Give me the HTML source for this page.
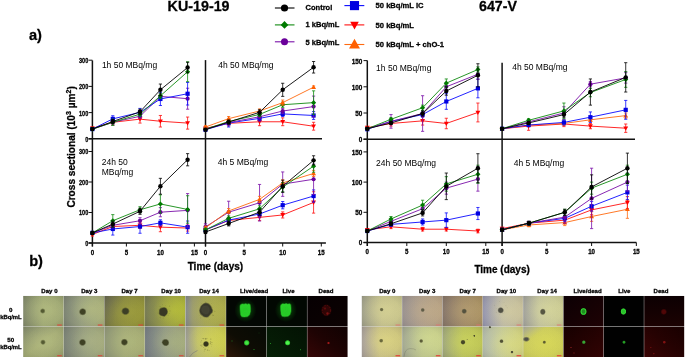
<!DOCTYPE html>
<html><head><meta charset="utf-8"><style>
html,body{margin:0;padding:0;background:#fff;width:685px;height:357px;overflow:hidden}
svg{display:block;will-change:transform}
text{font-family:'Liberation Sans', sans-serif}
text[font-weight=bold]{stroke:#000;stroke-width:0.28px;paint-order:stroke}
</style></head><body>
<svg width="685" height="357" viewBox="0 0 685 357">
<text x="167.6" y="11.3" font-size="14.3" font-weight="bold" text-anchor="start" fill="#000" >KU-19-19</text>
<text x="479.0" y="10.7" font-size="14.2" font-weight="bold" text-anchor="start" fill="#000" >647-V</text>
<text x="29.0" y="39.5" font-size="14.6" font-weight="bold" text-anchor="start" fill="#000" >a)</text>
<text x="29.2" y="266.2" font-size="14.6" font-weight="bold" text-anchor="start" fill="#000" >b)</text>
<path d="M274.9,8.0H294.5" stroke="#000000" stroke-width="1.1"/>
<circle cx="284.50" cy="8.00" r="3.60" fill="#000000"/>
<text x="305.6" y="10.2" font-size="7.5" font-weight="bold" text-anchor="start" fill="#000" >Control</text>
<path d="M274.9,24.9H294.5" stroke="#108a10" stroke-width="1.1"/>
<path d="M284.50,21.11L288.30,24.90L284.50,28.69L280.70,24.90Z" fill="#007a00"/>
<text x="305.6" y="27.3" font-size="7.5" font-weight="bold" text-anchor="start" fill="#000" >1 kBq/mL</text>
<path d="M274.9,41.8H294.5" stroke="#7a10a8" stroke-width="1.1"/>
<circle cx="284.50" cy="41.80" r="3.52" fill="#6a009a"/>
<text x="305.6" y="44.5" font-size="7.5" font-weight="bold" text-anchor="start" fill="#000" >5 kBq/mL</text>
<path d="M344.4,5.6H364.3" stroke="#0a0aff" stroke-width="1.1"/>
<rect x="349.94" y="1.04" width="9.12" height="9.12" fill="#0000e0"/>
<text x="375.6" y="8.1" font-size="7.6" font-weight="bold" text-anchor="start" fill="#000" >50 kBq/mL IC</text>
<path d="M344.4,24.9H364.3" stroke="#ff1010" stroke-width="1.1"/>
<path d="M350.21,21.68L358.79,21.68L354.50,29.40Z" fill="#ff0000"/>
<text x="375.6" y="27.6" font-size="7.6" font-weight="bold" text-anchor="start" fill="#000" >50 kBq/mL</text>
<path d="M344.4,44.5H364.3" stroke="#ff6a10" stroke-width="1.1"/>
<path d="M349.00,48.62L360.00,48.62L354.50,38.73Z" fill="#ff6000"/>
<text x="375.6" y="46.6" font-size="7.6" font-weight="bold" text-anchor="start" fill="#000" >50 kBq/mL + chO-1</text>
<path d="M92.4,60.4V246.5" stroke="#111" stroke-width="1.5" fill="none"/><path d="M205.5,60.1V246.5" stroke="#111" stroke-width="1.5" fill="none"/><path d="M88.60000000000001,138.8H322.0" stroke="#111" stroke-width="1.5" fill="none"/><path d="M88.60000000000001,243.0H325.9" stroke="#111" stroke-width="1.5" fill="none"/><path d="M88.60000000000001,138.80H92.4" stroke="#111" stroke-width="1"/><text x="88.30" y="141.80" font-size="7.1" font-weight="bold" text-anchor="end" transform="translate(88.30,0) scale(0.78,1) translate(-88.30,0)">0</text><path d="M88.60000000000001,112.60H92.4" stroke="#111" stroke-width="1"/><text x="88.30" y="115.60" font-size="7.1" font-weight="bold" text-anchor="end" transform="translate(88.30,0) scale(0.78,1) translate(-88.30,0)">100</text><path d="M88.60000000000001,86.40H92.4" stroke="#111" stroke-width="1"/><text x="88.30" y="89.40" font-size="7.1" font-weight="bold" text-anchor="end" transform="translate(88.30,0) scale(0.78,1) translate(-88.30,0)">200</text><path d="M88.60000000000001,60.20H92.4" stroke="#111" stroke-width="1"/><text x="88.30" y="63.20" font-size="7.1" font-weight="bold" text-anchor="end" transform="translate(88.30,0) scale(0.78,1) translate(-88.30,0)">300</text><path d="M88.60000000000001,243.00H92.4" stroke="#111" stroke-width="1"/><text x="88.30" y="246.00" font-size="7.1" font-weight="bold" text-anchor="end" transform="translate(88.30,0) scale(0.78,1) translate(-88.30,0)">0</text><path d="M88.60000000000001,212.50H92.4" stroke="#111" stroke-width="1"/><text x="88.30" y="215.50" font-size="7.1" font-weight="bold" text-anchor="end" transform="translate(88.30,0) scale(0.78,1) translate(-88.30,0)">100</text><path d="M88.60000000000001,182.00H92.4" stroke="#111" stroke-width="1"/><text x="88.30" y="185.00" font-size="7.1" font-weight="bold" text-anchor="end" transform="translate(88.30,0) scale(0.78,1) translate(-88.30,0)">200</text><path d="M88.60000000000001,151.50H92.4" stroke="#111" stroke-width="1"/><text x="88.30" y="154.50" font-size="7.1" font-weight="bold" text-anchor="end" transform="translate(88.30,0) scale(0.78,1) translate(-88.30,0)">300</text><path d="M92.40,243.0V246.5" stroke="#111" stroke-width="1"/><text x="92.40" y="255.00" font-size="7" font-weight="bold" text-anchor="middle" transform="translate(92.40,0) scale(0.88,1) translate(-92.40,0)">0</text><path d="M126.40,243.0V246.5" stroke="#111" stroke-width="1"/><text x="126.40" y="255.00" font-size="7" font-weight="bold" text-anchor="middle" transform="translate(126.40,0) scale(0.88,1) translate(-126.40,0)">5</text><path d="M160.40,243.0V246.5" stroke="#111" stroke-width="1"/><text x="160.40" y="255.00" font-size="7" font-weight="bold" text-anchor="middle" transform="translate(160.40,0) scale(0.88,1) translate(-160.40,0)">10</text><path d="M194.40,243.0V246.5" stroke="#111" stroke-width="1"/><text x="194.40" y="255.00" font-size="7" font-weight="bold" text-anchor="middle" transform="translate(194.40,0) scale(0.88,1) translate(-194.40,0)">15</text><path d="M205.50,243.0V246.5" stroke="#111" stroke-width="1"/><text x="205.50" y="255.00" font-size="7" font-weight="bold" text-anchor="middle" transform="translate(205.50,0) scale(0.88,1) translate(-205.50,0)">0</text><path d="M244.10,243.0V246.5" stroke="#111" stroke-width="1"/><text x="244.10" y="255.00" font-size="7" font-weight="bold" text-anchor="middle" transform="translate(244.10,0) scale(0.88,1) translate(-244.10,0)">5</text><path d="M282.70,243.0V246.5" stroke="#111" stroke-width="1"/><text x="282.70" y="255.00" font-size="7" font-weight="bold" text-anchor="middle" transform="translate(282.70,0) scale(0.88,1) translate(-282.70,0)">10</text><path d="M321.30,243.0V246.5" stroke="#111" stroke-width="1"/><text x="321.30" y="255.00" font-size="7" font-weight="bold" text-anchor="middle" transform="translate(321.30,0) scale(0.88,1) translate(-321.30,0)">15</text>
<path d="M367.3,60.5V246.0" stroke="#111" stroke-width="1.5" fill="none"/><path d="M502.1,62.7V246.0" stroke="#111" stroke-width="1.5" fill="none"/><path d="M363.5,139.2H635.0" stroke="#111" stroke-width="1.5" fill="none"/><path d="M363.5,242.5H636.4" stroke="#111" stroke-width="1.5" fill="none"/><path d="M363.5,139.20H367.3" stroke="#111" stroke-width="1"/><text x="362.40" y="142.20" font-size="7.1" font-weight="bold" text-anchor="end" transform="translate(362.40,0) scale(0.9,1) translate(-362.40,0)">0</text><path d="M363.5,113.00H367.3" stroke="#111" stroke-width="1"/><text x="362.40" y="116.00" font-size="7.1" font-weight="bold" text-anchor="end" transform="translate(362.40,0) scale(0.9,1) translate(-362.40,0)">50</text><path d="M363.5,86.80H367.3" stroke="#111" stroke-width="1"/><text x="362.40" y="89.80" font-size="7.1" font-weight="bold" text-anchor="end" transform="translate(362.40,0) scale(0.9,1) translate(-362.40,0)">100</text><path d="M363.5,60.60H367.3" stroke="#111" stroke-width="1"/><text x="362.40" y="63.60" font-size="7.1" font-weight="bold" text-anchor="end" transform="translate(362.40,0) scale(0.9,1) translate(-362.40,0)">150</text><path d="M363.5,242.50H367.3" stroke="#111" stroke-width="1"/><text x="362.40" y="245.50" font-size="7.1" font-weight="bold" text-anchor="end" transform="translate(362.40,0) scale(0.9,1) translate(-362.40,0)">0</text><path d="M363.5,212.30H367.3" stroke="#111" stroke-width="1"/><text x="362.40" y="215.30" font-size="7.1" font-weight="bold" text-anchor="end" transform="translate(362.40,0) scale(0.9,1) translate(-362.40,0)">50</text><path d="M363.5,182.10H367.3" stroke="#111" stroke-width="1"/><text x="362.40" y="185.10" font-size="7.1" font-weight="bold" text-anchor="end" transform="translate(362.40,0) scale(0.9,1) translate(-362.40,0)">100</text><path d="M363.5,151.90H367.3" stroke="#111" stroke-width="1"/><text x="362.40" y="154.90" font-size="7.1" font-weight="bold" text-anchor="end" transform="translate(362.40,0) scale(0.9,1) translate(-362.40,0)">150</text><path d="M367.30,242.5V246.0" stroke="#111" stroke-width="1"/><text x="367.30" y="254.50" font-size="7" font-weight="bold" text-anchor="middle" transform="translate(367.30,0) scale(0.88,1) translate(-367.30,0)">0</text><path d="M406.80,242.5V246.0" stroke="#111" stroke-width="1"/><text x="406.80" y="254.50" font-size="7" font-weight="bold" text-anchor="middle" transform="translate(406.80,0) scale(0.88,1) translate(-406.80,0)">5</text><path d="M446.30,242.5V246.0" stroke="#111" stroke-width="1"/><text x="446.30" y="254.50" font-size="7" font-weight="bold" text-anchor="middle" transform="translate(446.30,0) scale(0.88,1) translate(-446.30,0)">10</text><path d="M485.80,242.5V246.0" stroke="#111" stroke-width="1"/><text x="485.80" y="254.50" font-size="7" font-weight="bold" text-anchor="middle" transform="translate(485.80,0) scale(0.88,1) translate(-485.80,0)">15</text><path d="M502.10,242.5V246.0" stroke="#111" stroke-width="1"/><text x="502.10" y="254.50" font-size="7" font-weight="bold" text-anchor="middle" transform="translate(502.10,0) scale(0.88,1) translate(-502.10,0)">0</text><path d="M546.85,242.5V246.0" stroke="#111" stroke-width="1"/><text x="546.85" y="254.50" font-size="7" font-weight="bold" text-anchor="middle" transform="translate(546.85,0) scale(0.88,1) translate(-546.85,0)">5</text><path d="M591.60,242.5V246.0" stroke="#111" stroke-width="1"/><text x="591.60" y="254.50" font-size="7" font-weight="bold" text-anchor="middle" transform="translate(591.60,0) scale(0.88,1) translate(-591.60,0)">10</text><path d="M636.35,242.5V246.0" stroke="#111" stroke-width="1"/><text x="636.35" y="254.50" font-size="7" font-weight="bold" text-anchor="middle" transform="translate(636.35,0) scale(0.88,1) translate(-636.35,0)">15</text>
<text x="187.7" y="269.7" font-size="10" font-weight="bold" text-anchor="start" fill="#000" >Time (days)</text>
<text x="474.4" y="272.7" font-size="10" font-weight="bold" text-anchor="start" fill="#000" >Time (days)</text>
<text x="0" y="0" font-size="10.1" font-weight="bold" transform="translate(74.8,207.6) rotate(-90)">Cross sectional (10<tspan font-size="7" dy="-3.8">3</tspan><tspan dy="3.8"> µm</tspan><tspan font-size="7" dy="-3.8">2</tspan><tspan dy="3.8">)</tspan></text>
<text x="101.9" y="67.5" font-size="8.5" font-weight="normal" text-anchor="start" fill="#000" fill="#2a2a2a">1h 50 MBq/mg</text>
<text x="218.2" y="67.8" font-size="8.5" font-weight="normal" text-anchor="start" fill="#000" fill="#2a2a2a">4h 50 MBq/mg</text>
<text x="101.7" y="165" font-size="8.5" font-weight="normal" text-anchor="start" fill="#000" fill="#2a2a2a">24h 50</text>
<text x="101.7" y="175" font-size="8.5" font-weight="normal" text-anchor="start" fill="#000" fill="#2a2a2a">MBq/mg</text>
<text x="217.8" y="164.6" font-size="8.5" font-weight="normal" text-anchor="start" fill="#000" fill="#2a2a2a">4h 5 MBq/mg</text>
<text x="376.1" y="70.5" font-size="8.5" font-weight="normal" text-anchor="start" fill="#000" fill="#2a2a2a">1h 50 MBq/mg</text>
<text x="512.2" y="70.3" font-size="8.5" font-weight="normal" text-anchor="start" fill="#000" fill="#2a2a2a">4h 50 MBq/mg</text>
<text x="376.1" y="166.3" font-size="8.5" font-weight="normal" text-anchor="start" fill="#000" fill="#2a2a2a">24h 50 MBq/mg</text>
<text x="513.7" y="166.1" font-size="8.5" font-weight="normal" text-anchor="start" fill="#000" fill="#2a2a2a">4h 5 MBq/mg</text>
<path d="M92.40,127.01V129.63M90.80,127.01H94.00M90.80,129.63H94.00" stroke="#ff1010" stroke-width="0.8" fill="none"/><path d="M112.80,119.67V124.91M111.20,119.67H114.40M111.20,124.91H114.40" stroke="#ff1010" stroke-width="0.8" fill="none"/><path d="M140.00,115.22V123.08M138.40,115.22H141.60M138.40,123.08H141.60" stroke="#ff1010" stroke-width="0.8" fill="none"/><path d="M160.40,115.48V127.01M158.80,115.48H162.00M158.80,127.01H162.00" stroke="#ff1010" stroke-width="0.8" fill="none"/><path d="M187.60,117.05V129.11M186.00,117.05H189.20M186.00,129.11H189.20" stroke="#ff1010" stroke-width="0.8" fill="none"/><polyline points="92.40,128.32 112.80,122.29 140.00,119.15 160.40,121.25 187.60,123.08" stroke="#ff1010" stroke-width="0.9" fill="none"/><path d="M89.98,126.51L94.82,126.51L92.40,130.86Z" fill="#ff0000"/><path d="M110.38,120.48L115.22,120.48L112.80,124.84Z" fill="#ff0000"/><path d="M137.58,117.34L142.42,117.34L140.00,121.69Z" fill="#ff0000"/><path d="M157.98,119.43L162.82,119.43L160.40,123.79Z" fill="#ff0000"/><path d="M185.18,121.27L190.02,121.27L187.60,125.62Z" fill="#ff0000"/>
<path d="M92.40,127.80V130.42M90.80,127.80H94.00M90.80,130.42H94.00" stroke="#7a10a8" stroke-width="0.8" fill="none"/><path d="M112.80,119.67V124.91M111.20,119.67H114.40M111.20,124.91H114.40" stroke="#7a10a8" stroke-width="0.8" fill="none"/><path d="M140.00,114.17V118.36M138.40,114.17H141.60M138.40,118.36H141.60" stroke="#7a10a8" stroke-width="0.8" fill="none"/><path d="M160.40,93.74V98.98M158.80,93.74H162.00M158.80,98.98H162.00" stroke="#7a10a8" stroke-width="0.8" fill="none"/><path d="M187.60,88.23V109.19M186.00,88.23H189.20M186.00,109.19H189.20" stroke="#7a10a8" stroke-width="0.8" fill="none"/><polyline points="92.40,129.11 112.80,122.29 140.00,116.27 160.40,96.36 187.60,98.71" stroke="#7a10a8" stroke-width="0.9" fill="none"/><circle cx="92.40" cy="129.11" r="2.09" fill="#6a009a"/><circle cx="112.80" cy="122.29" r="2.09" fill="#6a009a"/><circle cx="140.00" cy="116.27" r="2.09" fill="#6a009a"/><circle cx="160.40" cy="96.36" r="2.09" fill="#6a009a"/><circle cx="187.60" cy="98.71" r="2.09" fill="#6a009a"/>
<path d="M92.40,127.80V130.42M90.80,127.80H94.00M90.80,130.42H94.00" stroke="#0a0aff" stroke-width="0.8" fill="none"/><path d="M112.80,115.74V122.03M111.20,115.74H114.40M111.20,122.03H114.40" stroke="#0a0aff" stroke-width="0.8" fill="none"/><path d="M140.00,108.41V116.27M138.40,108.41H141.60M138.40,116.27H141.60" stroke="#0a0aff" stroke-width="0.8" fill="none"/><path d="M160.40,92.43V105.53M158.80,92.43H162.00M158.80,105.53H162.00" stroke="#0a0aff" stroke-width="0.8" fill="none"/><path d="M187.60,82.47V105.00M186.00,82.47H189.20M186.00,105.00H189.20" stroke="#0a0aff" stroke-width="0.8" fill="none"/><polyline points="92.40,129.11 112.80,118.89 140.00,112.34 160.40,98.98 187.60,93.74" stroke="#0a0aff" stroke-width="0.9" fill="none"/><rect x="90.31" y="127.02" width="4.18" height="4.18" fill="#0000e0"/><rect x="110.71" y="116.80" width="4.18" height="4.18" fill="#0000e0"/><rect x="137.91" y="110.25" width="4.18" height="4.18" fill="#0000e0"/><rect x="158.31" y="96.89" width="4.18" height="4.18" fill="#0000e0"/><rect x="185.51" y="91.65" width="4.18" height="4.18" fill="#0000e0"/>
<path d="M92.40,127.80V130.42M90.80,127.80H94.00M90.80,130.42H94.00" stroke="#108a10" stroke-width="0.8" fill="none"/><path d="M112.80,119.15V125.44M111.20,119.15H114.40M111.20,125.44H114.40" stroke="#108a10" stroke-width="0.8" fill="none"/><path d="M140.00,112.08V116.27M138.40,112.08H141.60M138.40,116.27H141.60" stroke="#108a10" stroke-width="0.8" fill="none"/><path d="M160.40,93.21V98.45M158.80,93.21H162.00M158.80,98.45H162.00" stroke="#108a10" stroke-width="0.8" fill="none"/><path d="M187.60,61.77V81.68M186.00,61.77H189.20M186.00,81.68H189.20" stroke="#108a10" stroke-width="0.8" fill="none"/><polyline points="92.40,129.11 112.80,122.29 140.00,114.17 160.40,95.83 187.60,71.73" stroke="#108a10" stroke-width="0.9" fill="none"/><path d="M92.40,126.58L94.93,129.11L92.40,131.64L89.87,129.11Z" fill="#007a00"/><path d="M112.80,119.76L115.33,122.29L112.80,124.82L110.27,122.29Z" fill="#007a00"/><path d="M140.00,111.64L142.53,114.17L140.00,116.70L137.47,114.17Z" fill="#007a00"/><path d="M160.40,93.30L162.93,95.83L160.40,98.36L157.87,95.83Z" fill="#007a00"/><path d="M187.60,69.20L190.13,71.73L187.60,74.26L185.07,71.73Z" fill="#007a00"/>
<path d="M92.40,127.80V130.42M90.80,127.80H94.00M90.80,130.42H94.00" stroke="#000000" stroke-width="0.8" fill="none"/><path d="M112.80,119.41V123.60M111.20,119.41H114.40M111.20,123.60H114.40" stroke="#000000" stroke-width="0.8" fill="none"/><path d="M140.00,109.19V114.43M138.40,109.19H141.60M138.40,114.43H141.60" stroke="#000000" stroke-width="0.8" fill="none"/><path d="M160.40,84.04V95.57M158.80,84.04H162.00M158.80,95.57H162.00" stroke="#000000" stroke-width="0.8" fill="none"/><path d="M187.60,62.30V72.78M186.00,62.30H189.20M186.00,72.78H189.20" stroke="#000000" stroke-width="0.8" fill="none"/><polyline points="92.40,129.11 112.80,121.51 140.00,111.81 160.40,89.81 187.60,67.54" stroke="#000000" stroke-width="0.9" fill="none"/><circle cx="92.40" cy="129.11" r="2.20" fill="#000000"/><circle cx="112.80" cy="121.51" r="2.20" fill="#000000"/><circle cx="140.00" cy="111.81" r="2.20" fill="#000000"/><circle cx="160.40" cy="89.81" r="2.20" fill="#000000"/><circle cx="187.60" cy="67.54" r="2.20" fill="#000000"/>
<path d="M205.50,127.01V129.63M203.90,127.01H207.10M203.90,129.63H207.10" stroke="#ff1010" stroke-width="0.8" fill="none"/><path d="M228.66,120.72V125.96M227.06,120.72H230.26M227.06,125.96H230.26" stroke="#ff1010" stroke-width="0.8" fill="none"/><path d="M259.54,117.84V125.70M257.94,117.84H261.14M257.94,125.70H261.14" stroke="#ff1010" stroke-width="0.8" fill="none"/><path d="M282.70,117.84V125.70M281.10,117.84H284.30M281.10,125.70H284.30" stroke="#ff1010" stroke-width="0.8" fill="none"/><path d="M313.58,122.29V130.15M311.98,122.29H315.18M311.98,130.15H315.18" stroke="#ff1010" stroke-width="0.8" fill="none"/><polyline points="205.50,128.32 228.66,123.34 259.54,121.77 282.70,121.77 313.58,126.22" stroke="#ff1010" stroke-width="0.9" fill="none"/><path d="M203.08,126.51L207.92,126.51L205.50,130.86Z" fill="#ff0000"/><path d="M226.24,121.53L231.08,121.53L228.66,125.88Z" fill="#ff0000"/><path d="M257.12,119.96L261.96,119.96L259.54,124.31Z" fill="#ff0000"/><path d="M280.28,119.96L285.12,119.96L282.70,124.31Z" fill="#ff0000"/><path d="M311.16,124.41L316.00,124.41L313.58,128.77Z" fill="#ff0000"/>
<path d="M205.50,128.32V130.94M203.90,128.32H207.10M203.90,130.94H207.10" stroke="#0a0aff" stroke-width="0.8" fill="none"/><path d="M228.66,119.15V127.01M227.06,119.15H230.26M227.06,127.01H230.26" stroke="#0a0aff" stroke-width="0.8" fill="none"/><path d="M259.54,115.74V120.98M257.94,115.74H261.14M257.94,120.98H261.14" stroke="#0a0aff" stroke-width="0.8" fill="none"/><path d="M282.70,111.29V116.53M281.10,111.29H284.30M281.10,116.53H284.30" stroke="#0a0aff" stroke-width="0.8" fill="none"/><path d="M313.58,111.55V119.41M311.98,111.55H315.18M311.98,119.41H315.18" stroke="#0a0aff" stroke-width="0.8" fill="none"/><polyline points="205.50,129.63 228.66,123.08 259.54,118.36 282.70,113.91 313.58,115.48" stroke="#0a0aff" stroke-width="0.9" fill="none"/><rect x="203.41" y="127.54" width="4.18" height="4.18" fill="#0000e0"/><rect x="226.57" y="120.99" width="4.18" height="4.18" fill="#0000e0"/><rect x="257.45" y="116.27" width="4.18" height="4.18" fill="#0000e0"/><rect x="280.61" y="111.82" width="4.18" height="4.18" fill="#0000e0"/><rect x="311.49" y="113.39" width="4.18" height="4.18" fill="#0000e0"/>
<path d="M205.50,127.80V130.42M203.90,127.80H207.10M203.90,130.42H207.10" stroke="#7a10a8" stroke-width="0.8" fill="none"/><path d="M228.66,119.94V125.18M227.06,119.94H230.26M227.06,125.18H230.26" stroke="#7a10a8" stroke-width="0.8" fill="none"/><path d="M259.54,114.70V118.89M257.94,114.70H261.14M257.94,118.89H261.14" stroke="#7a10a8" stroke-width="0.8" fill="none"/><path d="M282.70,108.41V113.65M281.10,108.41H284.30M281.10,113.65H284.30" stroke="#7a10a8" stroke-width="0.8" fill="none"/><path d="M313.58,96.09V117.05M311.98,96.09H315.18M311.98,117.05H315.18" stroke="#7a10a8" stroke-width="0.8" fill="none"/><polyline points="205.50,129.11 228.66,122.56 259.54,116.79 282.70,111.03 313.58,106.57" stroke="#7a10a8" stroke-width="0.9" fill="none"/><circle cx="205.50" cy="129.11" r="2.09" fill="#6a009a"/><circle cx="228.66" cy="122.56" r="2.09" fill="#6a009a"/><circle cx="259.54" cy="116.79" r="2.09" fill="#6a009a"/><circle cx="282.70" cy="111.03" r="2.09" fill="#6a009a"/><circle cx="313.58" cy="106.57" r="2.09" fill="#6a009a"/>
<path d="M205.50,127.80V130.42M203.90,127.80H207.10M203.90,130.42H207.10" stroke="#108a10" stroke-width="0.8" fill="none"/><path d="M228.66,119.41V123.60M227.06,119.41H230.26M227.06,123.60H230.26" stroke="#108a10" stroke-width="0.8" fill="none"/><path d="M259.54,112.34V116.53M257.94,112.34H261.14M257.94,116.53H261.14" stroke="#108a10" stroke-width="0.8" fill="none"/><path d="M282.70,102.12V107.36M281.10,102.12H284.30M281.10,107.36H284.30" stroke="#108a10" stroke-width="0.8" fill="none"/><path d="M313.58,90.85V114.43M311.98,90.85H315.18M311.98,114.43H315.18" stroke="#108a10" stroke-width="0.8" fill="none"/><polyline points="205.50,129.11 228.66,121.51 259.54,114.43 282.70,104.74 313.58,102.64" stroke="#108a10" stroke-width="0.9" fill="none"/><path d="M205.50,126.58L208.03,129.11L205.50,131.64L202.97,129.11Z" fill="#007a00"/><path d="M228.66,118.98L231.19,121.51L228.66,124.04L226.13,121.51Z" fill="#007a00"/><path d="M259.54,111.90L262.07,114.43L259.54,116.96L257.01,114.43Z" fill="#007a00"/><path d="M282.70,102.21L285.23,104.74L282.70,107.27L280.17,104.74Z" fill="#007a00"/><path d="M313.58,100.11L316.11,102.64L313.58,105.17L311.05,102.64Z" fill="#007a00"/>
<path d="M205.50,125.70V128.32M203.90,125.70H207.10M203.90,128.32H207.10" stroke="#ff6a10" stroke-width="0.8" fill="none"/><path d="M228.66,116.53V120.72M227.06,116.53H230.26M227.06,120.72H230.26" stroke="#ff6a10" stroke-width="0.8" fill="none"/><path d="M259.54,108.93V113.12M257.94,108.93H261.14M257.94,113.12H261.14" stroke="#ff6a10" stroke-width="0.8" fill="none"/><path d="M282.70,100.02V105.26M281.10,100.02H284.30M281.10,105.26H284.30" stroke="#ff6a10" stroke-width="0.8" fill="none"/><path d="M313.58,85.88V88.50M311.98,85.88H315.18M311.98,88.50H315.18" stroke="#ff6a10" stroke-width="0.8" fill="none"/><polyline points="205.50,127.01 228.66,118.63 259.54,111.03 282.70,102.64 313.58,87.19" stroke="#ff6a10" stroke-width="0.9" fill="none"/><path d="M203.08,128.83L207.92,128.83L205.50,124.47Z" fill="#ff6000"/><path d="M226.24,120.44L231.08,120.44L228.66,116.09Z" fill="#ff6000"/><path d="M257.12,112.84L261.96,112.84L259.54,108.49Z" fill="#ff6000"/><path d="M280.28,104.46L285.12,104.46L282.70,100.10Z" fill="#ff6000"/><path d="M311.16,89.00L316.00,89.00L313.58,84.65Z" fill="#ff6000"/>
<path d="M205.50,128.32V130.94M203.90,128.32H207.10M203.90,130.94H207.10" stroke="#000000" stroke-width="0.8" fill="none"/><path d="M228.66,119.94V124.13M227.06,119.94H230.26M227.06,124.13H230.26" stroke="#000000" stroke-width="0.8" fill="none"/><path d="M259.54,109.72V114.96M257.94,109.72H261.14M257.94,114.96H261.14" stroke="#000000" stroke-width="0.8" fill="none"/><path d="M282.70,83.26V96.36M281.10,83.26H284.30M281.10,96.36H284.30" stroke="#000000" stroke-width="0.8" fill="none"/><path d="M313.58,61.51V73.04M311.98,61.51H315.18M311.98,73.04H315.18" stroke="#000000" stroke-width="0.8" fill="none"/><polyline points="205.50,129.63 228.66,122.03 259.54,112.34 282.70,89.81 313.58,67.27" stroke="#000000" stroke-width="0.9" fill="none"/><circle cx="205.50" cy="129.63" r="2.20" fill="#000000"/><circle cx="228.66" cy="122.03" r="2.20" fill="#000000"/><circle cx="259.54" cy="112.34" r="2.20" fill="#000000"/><circle cx="282.70" cy="89.81" r="2.20" fill="#000000"/><circle cx="313.58" cy="67.27" r="2.20" fill="#000000"/>
<path d="M92.40,232.94V235.99M90.80,232.94H94.00M90.80,235.99H94.00" stroke="#ff1010" stroke-width="0.8" fill="none"/><path d="M112.80,223.48V229.58M111.20,223.48H114.40M111.20,229.58H114.40" stroke="#ff1010" stroke-width="0.8" fill="none"/><path d="M140.00,222.26V228.36M138.40,222.26H141.60M138.40,228.36H141.60" stroke="#ff1010" stroke-width="0.8" fill="none"/><path d="M160.40,222.56V231.72M158.80,222.56H162.00M158.80,231.72H162.00" stroke="#ff1010" stroke-width="0.8" fill="none"/><path d="M187.60,225.00V231.10M186.00,225.00H189.20M186.00,231.10H189.20" stroke="#ff1010" stroke-width="0.8" fill="none"/><polyline points="92.40,234.46 112.80,226.53 140.00,225.31 160.40,227.14 187.60,228.06" stroke="#ff1010" stroke-width="0.9" fill="none"/><path d="M89.98,232.65L94.82,232.65L92.40,237.00Z" fill="#ff0000"/><path d="M110.38,224.72L115.22,224.72L112.80,229.07Z" fill="#ff0000"/><path d="M137.58,223.50L142.42,223.50L140.00,227.85Z" fill="#ff0000"/><path d="M157.98,225.32L162.82,225.32L160.40,229.68Z" fill="#ff0000"/><path d="M185.18,226.24L190.02,226.24L187.60,230.60Z" fill="#ff0000"/>
<path d="M92.40,231.41V234.46M90.80,231.41H94.00M90.80,234.46H94.00" stroke="#0a0aff" stroke-width="0.8" fill="none"/><path d="M112.80,222.87V235.07M111.20,222.87H114.40M111.20,235.07H114.40" stroke="#0a0aff" stroke-width="0.8" fill="none"/><path d="M140.00,219.82V233.24M138.40,219.82H141.60M138.40,233.24H141.60" stroke="#0a0aff" stroke-width="0.8" fill="none"/><path d="M160.40,219.82V225.92M158.80,219.82H162.00M158.80,225.92H162.00" stroke="#0a0aff" stroke-width="0.8" fill="none"/><path d="M187.60,221.04V233.24M186.00,221.04H189.20M186.00,233.24H189.20" stroke="#0a0aff" stroke-width="0.8" fill="none"/><polyline points="92.40,232.94 112.80,228.97 140.00,226.53 160.40,222.87 187.60,227.14" stroke="#0a0aff" stroke-width="0.9" fill="none"/><rect x="90.31" y="230.84" width="4.18" height="4.18" fill="#0000e0"/><rect x="110.71" y="226.88" width="4.18" height="4.18" fill="#0000e0"/><rect x="137.91" y="224.44" width="4.18" height="4.18" fill="#0000e0"/><rect x="158.31" y="220.78" width="4.18" height="4.18" fill="#0000e0"/><rect x="185.51" y="225.05" width="4.18" height="4.18" fill="#0000e0"/>
<path d="M92.40,231.41V234.46M90.80,231.41H94.00M90.80,234.46H94.00" stroke="#7a10a8" stroke-width="0.8" fill="none"/><path d="M112.80,222.87V227.75M111.20,222.87H114.40M111.20,227.75H114.40" stroke="#7a10a8" stroke-width="0.8" fill="none"/><path d="M140.00,217.69V223.78M138.40,217.69H141.60M138.40,223.78H141.60" stroke="#7a10a8" stroke-width="0.8" fill="none"/><path d="M160.40,207.62V216.77M158.80,207.62H162.00M158.80,216.77H162.00" stroke="#7a10a8" stroke-width="0.8" fill="none"/><path d="M187.60,193.59V227.14M186.00,193.59H189.20M186.00,227.14H189.20" stroke="#7a10a8" stroke-width="0.8" fill="none"/><polyline points="92.40,232.94 112.80,225.31 140.00,220.74 160.40,212.19 187.60,210.37" stroke="#7a10a8" stroke-width="0.9" fill="none"/><circle cx="92.40" cy="232.94" r="2.09" fill="#6a009a"/><circle cx="112.80" cy="225.31" r="2.09" fill="#6a009a"/><circle cx="140.00" cy="220.74" r="2.09" fill="#6a009a"/><circle cx="160.40" cy="212.19" r="2.09" fill="#6a009a"/><circle cx="187.60" cy="210.37" r="2.09" fill="#6a009a"/>
<path d="M92.40,231.41V234.46M90.80,231.41H94.00M90.80,234.46H94.00" stroke="#108a10" stroke-width="0.8" fill="none"/><path d="M112.80,214.63V226.84M111.20,214.63H114.40M111.20,226.84H114.40" stroke="#108a10" stroke-width="0.8" fill="none"/><path d="M140.00,206.70V212.81M138.40,206.70H141.60M138.40,212.81H141.60" stroke="#108a10" stroke-width="0.8" fill="none"/><path d="M160.40,194.81V213.11M158.80,194.81H162.00M158.80,213.11H162.00" stroke="#108a10" stroke-width="0.8" fill="none"/><path d="M187.60,195.72V223.18M186.00,195.72H189.20M186.00,223.18H189.20" stroke="#108a10" stroke-width="0.8" fill="none"/><polyline points="92.40,232.94 112.80,220.74 140.00,209.75 160.40,203.96 187.60,209.45" stroke="#108a10" stroke-width="0.9" fill="none"/><path d="M92.40,230.41L94.93,232.94L92.40,235.47L89.87,232.94Z" fill="#007a00"/><path d="M112.80,218.21L115.33,220.74L112.80,223.27L110.27,220.74Z" fill="#007a00"/><path d="M140.00,207.22L142.53,209.75L140.00,212.28L137.47,209.75Z" fill="#007a00"/><path d="M160.40,201.43L162.93,203.96L160.40,206.49L157.87,203.96Z" fill="#007a00"/><path d="M187.60,206.92L190.13,209.45L187.60,211.98L185.07,209.45Z" fill="#007a00"/>
<path d="M92.40,231.41V234.46M90.80,231.41H94.00M90.80,234.46H94.00" stroke="#000000" stroke-width="0.8" fill="none"/><path d="M112.80,221.04V227.14M111.20,221.04H114.40M111.20,227.14H114.40" stroke="#000000" stroke-width="0.8" fill="none"/><path d="M140.00,208.23V214.33M138.40,208.23H141.60M138.40,214.33H141.60" stroke="#000000" stroke-width="0.8" fill="none"/><path d="M160.40,178.34V194.20M158.80,178.34H162.00M158.80,194.20H162.00" stroke="#000000" stroke-width="0.8" fill="none"/><path d="M187.60,153.63V165.84M186.00,153.63H189.20M186.00,165.84H189.20" stroke="#000000" stroke-width="0.8" fill="none"/><polyline points="92.40,232.94 112.80,224.09 140.00,211.28 160.40,186.27 187.60,159.74" stroke="#000000" stroke-width="0.9" fill="none"/><circle cx="92.40" cy="232.94" r="2.20" fill="#000000"/><circle cx="112.80" cy="224.09" r="2.20" fill="#000000"/><circle cx="140.00" cy="211.28" r="2.20" fill="#000000"/><circle cx="160.40" cy="186.27" r="2.20" fill="#000000"/><circle cx="187.60" cy="159.74" r="2.20" fill="#000000"/>
<path d="M205.50,228.36V231.41M203.90,228.36H207.10M203.90,231.41H207.10" stroke="#ff1010" stroke-width="0.8" fill="none"/><path d="M228.66,217.99V222.87M227.06,217.99H230.26M227.06,222.87H230.26" stroke="#ff1010" stroke-width="0.8" fill="none"/><path d="M259.54,214.33V220.43M257.94,214.33H261.14M257.94,220.43H261.14" stroke="#ff1010" stroke-width="0.8" fill="none"/><path d="M282.70,211.89V217.99M281.10,211.89H284.30M281.10,217.99H284.30" stroke="#ff1010" stroke-width="0.8" fill="none"/><path d="M313.58,191.76V213.11M311.98,191.76H315.18M311.98,213.11H315.18" stroke="#ff1010" stroke-width="0.8" fill="none"/><polyline points="205.50,229.88 228.66,220.43 259.54,217.38 282.70,214.94 313.58,202.44" stroke="#ff1010" stroke-width="0.9" fill="none"/><path d="M203.08,228.07L207.92,228.07L205.50,232.43Z" fill="#ff0000"/><path d="M226.24,218.62L231.08,218.62L228.66,222.97Z" fill="#ff0000"/><path d="M257.12,215.56L261.96,215.56L259.54,219.92Z" fill="#ff0000"/><path d="M280.28,213.12L285.12,213.12L282.70,217.48Z" fill="#ff0000"/><path d="M311.16,200.62L316.00,200.62L313.58,204.98Z" fill="#ff0000"/>
<path d="M205.50,228.36V231.41M203.90,228.36H207.10M203.90,231.41H207.10" stroke="#0a0aff" stroke-width="0.8" fill="none"/><path d="M228.66,217.69V222.56M227.06,217.69H230.26M227.06,222.56H230.26" stroke="#0a0aff" stroke-width="0.8" fill="none"/><path d="M259.54,210.97V217.07M257.94,210.97H261.14M257.94,217.07H261.14" stroke="#0a0aff" stroke-width="0.8" fill="none"/><path d="M282.70,201.52V208.84M281.10,201.52H284.30M281.10,208.84H284.30" stroke="#0a0aff" stroke-width="0.8" fill="none"/><path d="M313.58,189.93V202.13M311.98,189.93H315.18M311.98,202.13H315.18" stroke="#0a0aff" stroke-width="0.8" fill="none"/><polyline points="205.50,229.88 228.66,220.12 259.54,214.03 282.70,205.18 313.58,196.03" stroke="#0a0aff" stroke-width="0.9" fill="none"/><rect x="203.41" y="227.79" width="4.18" height="4.18" fill="#0000e0"/><rect x="226.57" y="218.03" width="4.18" height="4.18" fill="#0000e0"/><rect x="257.45" y="211.94" width="4.18" height="4.18" fill="#0000e0"/><rect x="280.61" y="203.09" width="4.18" height="4.18" fill="#0000e0"/><rect x="311.49" y="193.94" width="4.18" height="4.18" fill="#0000e0"/>
<path d="M205.50,223.78V229.88M203.90,223.78H207.10M203.90,229.88H207.10" stroke="#7a10a8" stroke-width="0.8" fill="none"/><path d="M228.66,201.22V223.18M227.06,201.22H230.26M227.06,223.18H230.26" stroke="#7a10a8" stroke-width="0.8" fill="none"/><path d="M259.54,184.44V221.04M257.94,184.44H261.14M257.94,221.04H261.14" stroke="#7a10a8" stroke-width="0.8" fill="none"/><path d="M282.70,171.94V196.34M281.10,171.94H284.30M281.10,196.34H284.30" stroke="#7a10a8" stroke-width="0.8" fill="none"/><path d="M313.58,164.00V194.50M311.98,164.00H315.18M311.98,194.50H315.18" stroke="#7a10a8" stroke-width="0.8" fill="none"/><polyline points="205.50,226.84 228.66,212.19 259.54,202.74 282.70,184.13 313.58,179.25" stroke="#7a10a8" stroke-width="0.9" fill="none"/><circle cx="205.50" cy="226.84" r="2.09" fill="#6a009a"/><circle cx="228.66" cy="212.19" r="2.09" fill="#6a009a"/><circle cx="259.54" cy="202.74" r="2.09" fill="#6a009a"/><circle cx="282.70" cy="184.13" r="2.09" fill="#6a009a"/><circle cx="313.58" cy="179.25" r="2.09" fill="#6a009a"/>
<path d="M205.50,226.22V229.28M203.90,226.22H207.10M203.90,229.28H207.10" stroke="#ff6a10" stroke-width="0.8" fill="none"/><path d="M228.66,208.53V213.41M227.06,208.53H230.26M227.06,213.41H230.26" stroke="#ff6a10" stroke-width="0.8" fill="none"/><path d="M259.54,196.34V202.44M257.94,196.34H261.14M257.94,202.44H261.14" stroke="#ff6a10" stroke-width="0.8" fill="none"/><path d="M282.70,179.87V185.97M281.10,179.87H284.30M281.10,185.97H284.30" stroke="#ff6a10" stroke-width="0.8" fill="none"/><path d="M313.58,170.41V176.51M311.98,170.41H315.18M311.98,176.51H315.18" stroke="#ff6a10" stroke-width="0.8" fill="none"/><polyline points="205.50,227.75 228.66,210.97 259.54,199.38 282.70,182.91 313.58,173.46" stroke="#ff6a10" stroke-width="0.9" fill="none"/><path d="M203.08,229.56L207.92,229.56L205.50,225.21Z" fill="#ff6000"/><path d="M226.24,212.79L231.08,212.79L228.66,208.43Z" fill="#ff6000"/><path d="M257.12,201.20L261.96,201.20L259.54,196.84Z" fill="#ff6000"/><path d="M280.28,184.73L285.12,184.73L282.70,180.37Z" fill="#ff6000"/><path d="M311.16,175.28L316.00,175.28L313.58,170.92Z" fill="#ff6000"/>
<path d="M205.50,228.36V231.41M203.90,228.36H207.10M203.90,231.41H207.10" stroke="#108a10" stroke-width="0.8" fill="none"/><path d="M228.66,215.85V220.74M227.06,215.85H230.26M227.06,220.74H230.26" stroke="#108a10" stroke-width="0.8" fill="none"/><path d="M259.54,205.79V211.89M257.94,205.79H261.14M257.94,211.89H261.14" stroke="#108a10" stroke-width="0.8" fill="none"/><path d="M282.70,182.61V191.76M281.10,182.61H284.30M281.10,191.76H284.30" stroke="#108a10" stroke-width="0.8" fill="none"/><path d="M313.58,160.04V172.24M311.98,160.04H315.18M311.98,172.24H315.18" stroke="#108a10" stroke-width="0.8" fill="none"/><polyline points="205.50,229.88 228.66,218.30 259.54,208.84 282.70,187.19 313.58,166.14" stroke="#108a10" stroke-width="0.9" fill="none"/><path d="M205.50,227.35L208.03,229.88L205.50,232.41L202.97,229.88Z" fill="#007a00"/><path d="M228.66,215.77L231.19,218.30L228.66,220.83L226.13,218.30Z" fill="#007a00"/><path d="M259.54,206.31L262.07,208.84L259.54,211.37L257.01,208.84Z" fill="#007a00"/><path d="M282.70,184.66L285.23,187.19L282.70,189.72L280.17,187.19Z" fill="#007a00"/><path d="M313.58,163.61L316.11,166.14L313.58,168.67L311.05,166.14Z" fill="#007a00"/>
<path d="M205.50,230.50V233.54M203.90,230.50H207.10M203.90,233.54H207.10" stroke="#000000" stroke-width="0.8" fill="none"/><path d="M228.66,221.04V225.92M227.06,221.04H230.26M227.06,225.92H230.26" stroke="#000000" stroke-width="0.8" fill="none"/><path d="M259.54,209.15V215.25M257.94,209.15H261.14M257.94,215.25H261.14" stroke="#000000" stroke-width="0.8" fill="none"/><path d="M282.70,180.17V192.37M281.10,180.17H284.30M281.10,192.37H284.30" stroke="#000000" stroke-width="0.8" fill="none"/><path d="M313.58,155.77V164.92M311.98,155.77H315.18M311.98,164.92H315.18" stroke="#000000" stroke-width="0.8" fill="none"/><polyline points="205.50,232.02 228.66,223.48 259.54,212.19 282.70,186.27 313.58,160.34" stroke="#000000" stroke-width="0.9" fill="none"/><circle cx="205.50" cy="232.02" r="2.20" fill="#000000"/><circle cx="228.66" cy="223.48" r="2.20" fill="#000000"/><circle cx="259.54" cy="212.19" r="2.20" fill="#000000"/><circle cx="282.70" cy="186.27" r="2.20" fill="#000000"/><circle cx="313.58" cy="160.34" r="2.20" fill="#000000"/>
<path d="M367.30,126.62V128.72M365.70,126.62H368.90M365.70,128.72H368.90" stroke="#ff1010" stroke-width="0.8" fill="none"/><path d="M391.00,120.86V126.10M389.40,120.86H392.60M389.40,126.10H392.60" stroke="#ff1010" stroke-width="0.8" fill="none"/><path d="M422.60,116.67V125.05M421.00,116.67H424.20M421.00,125.05H424.20" stroke="#ff1010" stroke-width="0.8" fill="none"/><path d="M446.30,118.24V128.72M444.70,118.24H447.90M444.70,128.72H447.90" stroke="#ff1010" stroke-width="0.8" fill="none"/><path d="M477.90,103.04V121.91M476.30,103.04H479.50M476.30,121.91H479.50" stroke="#ff1010" stroke-width="0.8" fill="none"/><polyline points="367.30,127.67 391.00,123.48 422.60,120.86 446.30,123.48 477.90,112.48" stroke="#ff1010" stroke-width="0.9" fill="none"/><path d="M364.88,125.86L369.72,125.86L367.30,130.21Z" fill="#ff0000"/><path d="M388.58,121.66L393.42,121.66L391.00,126.02Z" fill="#ff0000"/><path d="M420.18,119.04L425.02,119.04L422.60,123.40Z" fill="#ff0000"/><path d="M443.88,121.66L448.72,121.66L446.30,126.02Z" fill="#ff0000"/><path d="M475.48,110.66L480.32,110.66L477.90,115.02Z" fill="#ff0000"/>
<path d="M367.30,128.20V130.29M365.70,128.20H368.90M365.70,130.29H368.90" stroke="#0a0aff" stroke-width="0.8" fill="none"/><path d="M391.00,119.81V122.96M389.40,119.81H392.60M389.40,122.96H392.60" stroke="#0a0aff" stroke-width="0.8" fill="none"/><path d="M422.60,111.95V117.19M421.00,111.95H424.20M421.00,117.19H424.20" stroke="#0a0aff" stroke-width="0.8" fill="none"/><path d="M446.30,93.61V109.33M444.70,93.61H447.90M444.70,109.33H447.90" stroke="#0a0aff" stroke-width="0.8" fill="none"/><path d="M477.90,78.94V97.80M476.30,78.94H479.50M476.30,97.80H479.50" stroke="#0a0aff" stroke-width="0.8" fill="none"/><polyline points="367.30,129.24 391.00,121.38 422.60,114.57 446.30,101.47 477.90,88.37" stroke="#0a0aff" stroke-width="0.9" fill="none"/><rect x="365.21" y="127.15" width="4.18" height="4.18" fill="#0000e0"/><rect x="388.91" y="119.29" width="4.18" height="4.18" fill="#0000e0"/><rect x="420.51" y="112.48" width="4.18" height="4.18" fill="#0000e0"/><rect x="444.21" y="99.38" width="4.18" height="4.18" fill="#0000e0"/><rect x="475.81" y="86.28" width="4.18" height="4.18" fill="#0000e0"/>
<path d="M367.30,127.67V129.77M365.70,127.67H368.90M365.70,129.77H368.90" stroke="#7a10a8" stroke-width="0.8" fill="none"/><path d="M391.00,114.57V128.20M389.40,114.57H392.60M389.40,128.20H392.60" stroke="#7a10a8" stroke-width="0.8" fill="none"/><path d="M422.60,95.71V131.34M421.00,95.71H424.20M421.00,131.34H424.20" stroke="#7a10a8" stroke-width="0.8" fill="none"/><path d="M446.30,82.61V90.99M444.70,82.61H447.90M444.70,90.99H447.90" stroke="#7a10a8" stroke-width="0.8" fill="none"/><path d="M477.90,68.98V79.46M476.30,68.98H479.50M476.30,79.46H479.50" stroke="#7a10a8" stroke-width="0.8" fill="none"/><polyline points="367.30,128.72 391.00,121.38 422.60,113.52 446.30,86.80 477.90,74.22" stroke="#7a10a8" stroke-width="0.9" fill="none"/><circle cx="367.30" cy="128.72" r="2.09" fill="#6a009a"/><circle cx="391.00" cy="121.38" r="2.09" fill="#6a009a"/><circle cx="422.60" cy="113.52" r="2.09" fill="#6a009a"/><circle cx="446.30" cy="86.80" r="2.09" fill="#6a009a"/><circle cx="477.90" cy="74.22" r="2.09" fill="#6a009a"/>
<path d="M367.30,127.67V129.77M365.70,127.67H368.90M365.70,129.77H368.90" stroke="#108a10" stroke-width="0.8" fill="none"/><path d="M391.00,117.72V120.86M389.40,117.72H392.60M389.40,120.86H392.60" stroke="#108a10" stroke-width="0.8" fill="none"/><path d="M422.60,105.14V110.38M421.00,105.14H424.20M421.00,110.38H424.20" stroke="#108a10" stroke-width="0.8" fill="none"/><path d="M446.30,78.94V87.32M444.70,78.94H447.90M444.70,87.32H447.90" stroke="#108a10" stroke-width="0.8" fill="none"/><path d="M477.90,66.89V72.13M476.30,66.89H479.50M476.30,72.13H479.50" stroke="#108a10" stroke-width="0.8" fill="none"/><polyline points="367.30,128.72 391.00,119.29 422.60,107.76 446.30,83.13 477.90,69.51" stroke="#108a10" stroke-width="0.9" fill="none"/><path d="M367.30,126.19L369.83,128.72L367.30,131.25L364.77,128.72Z" fill="#007a00"/><path d="M391.00,116.76L393.53,119.29L391.00,121.82L388.47,119.29Z" fill="#007a00"/><path d="M422.60,105.23L425.13,107.76L422.60,110.29L420.07,107.76Z" fill="#007a00"/><path d="M446.30,80.60L448.83,83.13L446.30,85.66L443.77,83.13Z" fill="#007a00"/><path d="M477.90,66.98L480.43,69.51L477.90,72.04L475.37,69.51Z" fill="#007a00"/>
<path d="M367.30,127.67V129.77M365.70,127.67H368.90M365.70,129.77H368.90" stroke="#000000" stroke-width="0.8" fill="none"/><path d="M391.00,121.38V124.53M389.40,121.38H392.60M389.40,124.53H392.60" stroke="#000000" stroke-width="0.8" fill="none"/><path d="M422.60,110.90V116.14M421.00,110.90H424.20M421.00,116.14H424.20" stroke="#000000" stroke-width="0.8" fill="none"/><path d="M446.30,86.80V95.18M444.70,86.80H447.90M444.70,95.18H447.90" stroke="#000000" stroke-width="0.8" fill="none"/><path d="M477.90,63.74V86.80M476.30,63.74H479.50M476.30,86.80H479.50" stroke="#000000" stroke-width="0.8" fill="none"/><polyline points="367.30,128.72 391.00,122.96 422.60,113.52 446.30,90.99 477.90,75.27" stroke="#000000" stroke-width="0.9" fill="none"/><circle cx="367.30" cy="128.72" r="2.20" fill="#000000"/><circle cx="391.00" cy="122.96" r="2.20" fill="#000000"/><circle cx="422.60" cy="113.52" r="2.20" fill="#000000"/><circle cx="446.30" cy="90.99" r="2.20" fill="#000000"/><circle cx="477.90" cy="75.27" r="2.20" fill="#000000"/>
<path d="M502.10,127.67V129.77M500.50,127.67H503.70M500.50,129.77H503.70" stroke="#ff1010" stroke-width="0.8" fill="none"/><path d="M528.59,121.91V130.29M526.99,121.91H530.19M526.99,130.29H530.19" stroke="#ff1010" stroke-width="0.8" fill="none"/><path d="M563.91,121.38V126.62M562.31,121.38H565.51M562.31,126.62H565.51" stroke="#ff1010" stroke-width="0.8" fill="none"/><path d="M590.40,123.48V128.72M588.80,123.48H592.00M588.80,128.72H592.00" stroke="#ff1010" stroke-width="0.8" fill="none"/><path d="M625.72,124.00V132.39M624.12,124.00H627.32M624.12,132.39H627.32" stroke="#ff1010" stroke-width="0.8" fill="none"/><polyline points="502.10,128.72 528.59,126.10 563.91,124.00 590.40,126.10 625.72,128.20" stroke="#ff1010" stroke-width="0.9" fill="none"/><path d="M499.68,126.91L504.52,126.91L502.10,131.26Z" fill="#ff0000"/><path d="M526.17,124.28L531.01,124.28L528.59,128.64Z" fill="#ff0000"/><path d="M561.49,122.19L566.33,122.19L563.91,126.54Z" fill="#ff0000"/><path d="M587.98,124.28L592.82,124.28L590.40,128.64Z" fill="#ff0000"/><path d="M623.30,126.38L628.14,126.38L625.72,130.74Z" fill="#ff0000"/>
<path d="M502.10,127.67V129.77M500.50,127.67H503.70M500.50,129.77H503.70" stroke="#ff6a10" stroke-width="0.8" fill="none"/><path d="M528.59,123.48V126.62M526.99,123.48H530.19M526.99,126.62H530.19" stroke="#ff6a10" stroke-width="0.8" fill="none"/><path d="M563.91,121.91V125.05M562.31,121.91H565.51M562.31,125.05H565.51" stroke="#ff6a10" stroke-width="0.8" fill="none"/><path d="M590.40,118.24V121.38M588.80,118.24H592.00M588.80,121.38H592.00" stroke="#ff6a10" stroke-width="0.8" fill="none"/><path d="M625.72,113.00V118.24M624.12,113.00H627.32M624.12,118.24H627.32" stroke="#ff6a10" stroke-width="0.8" fill="none"/><polyline points="502.10,128.72 528.59,125.05 563.91,123.48 590.40,119.81 625.72,115.62" stroke="#ff6a10" stroke-width="0.9" fill="none"/><path d="M499.68,130.53L504.52,130.53L502.10,126.18Z" fill="#ff6000"/><path d="M526.17,126.87L531.01,126.87L528.59,122.51Z" fill="#ff6000"/><path d="M561.49,125.29L566.33,125.29L563.91,120.94Z" fill="#ff6000"/><path d="M587.98,121.63L592.82,121.63L590.40,117.27Z" fill="#ff6000"/><path d="M623.30,117.43L628.14,117.43L625.72,113.08Z" fill="#ff6000"/>
<path d="M502.10,127.67V129.77M500.50,127.67H503.70M500.50,129.77H503.70" stroke="#0a0aff" stroke-width="0.8" fill="none"/><path d="M528.59,123.48V126.62M526.99,123.48H530.19M526.99,126.62H530.19" stroke="#0a0aff" stroke-width="0.8" fill="none"/><path d="M563.91,119.81V125.05M562.31,119.81H565.51M562.31,125.05H565.51" stroke="#0a0aff" stroke-width="0.8" fill="none"/><path d="M590.40,111.95V122.43M588.80,111.95H592.00M588.80,122.43H592.00" stroke="#0a0aff" stroke-width="0.8" fill="none"/><path d="M625.72,100.42V119.29M624.12,100.42H627.32M624.12,119.29H627.32" stroke="#0a0aff" stroke-width="0.8" fill="none"/><polyline points="502.10,128.72 528.59,125.05 563.91,122.43 590.40,117.19 625.72,109.86" stroke="#0a0aff" stroke-width="0.9" fill="none"/><rect x="500.01" y="126.63" width="4.18" height="4.18" fill="#0000e0"/><rect x="526.50" y="122.96" width="4.18" height="4.18" fill="#0000e0"/><rect x="561.82" y="120.34" width="4.18" height="4.18" fill="#0000e0"/><rect x="588.31" y="115.10" width="4.18" height="4.18" fill="#0000e0"/><rect x="623.63" y="107.77" width="4.18" height="4.18" fill="#0000e0"/>
<path d="M502.10,127.67V129.77M500.50,127.67H503.70M500.50,129.77H503.70" stroke="#7a10a8" stroke-width="0.8" fill="none"/><path d="M528.59,120.34V123.48M526.99,120.34H530.19M526.99,123.48H530.19" stroke="#7a10a8" stroke-width="0.8" fill="none"/><path d="M563.91,106.71V119.29M562.31,106.71H565.51M562.31,119.29H565.51" stroke="#7a10a8" stroke-width="0.8" fill="none"/><path d="M590.40,81.56V86.80M588.80,81.56H592.00M588.80,86.80H592.00" stroke="#7a10a8" stroke-width="0.8" fill="none"/><path d="M625.72,72.65V83.13M624.12,72.65H627.32M624.12,83.13H627.32" stroke="#7a10a8" stroke-width="0.8" fill="none"/><polyline points="502.10,128.72 528.59,121.91 563.91,113.00 590.40,84.18 625.72,77.89" stroke="#7a10a8" stroke-width="0.9" fill="none"/><circle cx="502.10" cy="128.72" r="2.09" fill="#6a009a"/><circle cx="528.59" cy="121.91" r="2.09" fill="#6a009a"/><circle cx="563.91" cy="113.00" r="2.09" fill="#6a009a"/><circle cx="590.40" cy="84.18" r="2.09" fill="#6a009a"/><circle cx="625.72" cy="77.89" r="2.09" fill="#6a009a"/>
<path d="M502.10,127.67V129.77M500.50,127.67H503.70M500.50,129.77H503.70" stroke="#108a10" stroke-width="0.8" fill="none"/><path d="M528.59,118.76V121.91M526.99,118.76H530.19M526.99,121.91H530.19" stroke="#108a10" stroke-width="0.8" fill="none"/><path d="M563.91,103.04V118.76M562.31,103.04H565.51M562.31,118.76H565.51" stroke="#108a10" stroke-width="0.8" fill="none"/><path d="M590.40,88.37V96.76M588.80,88.37H592.00M588.80,96.76H592.00" stroke="#108a10" stroke-width="0.8" fill="none"/><path d="M625.72,71.60V87.32M624.12,71.60H627.32M624.12,87.32H627.32" stroke="#108a10" stroke-width="0.8" fill="none"/><polyline points="502.10,128.72 528.59,120.34 563.91,110.90 590.40,92.56 625.72,79.46" stroke="#108a10" stroke-width="0.9" fill="none"/><path d="M502.10,126.19L504.63,128.72L502.10,131.25L499.57,128.72Z" fill="#007a00"/><path d="M528.59,117.81L531.12,120.34L528.59,122.87L526.06,120.34Z" fill="#007a00"/><path d="M563.91,108.37L566.44,110.90L563.91,113.43L561.38,110.90Z" fill="#007a00"/><path d="M590.40,90.03L592.93,92.56L590.40,95.09L587.87,92.56Z" fill="#007a00"/><path d="M625.72,76.93L628.25,79.46L625.72,81.99L623.19,79.46Z" fill="#007a00"/>
<path d="M502.10,127.67V129.77M500.50,127.67H503.70M500.50,129.77H503.70" stroke="#000000" stroke-width="0.8" fill="none"/><path d="M528.59,121.38V124.53M526.99,121.38H530.19M526.99,124.53H530.19" stroke="#000000" stroke-width="0.8" fill="none"/><path d="M563.91,111.95V117.19M562.31,111.95H565.51M562.31,117.19H565.51" stroke="#000000" stroke-width="0.8" fill="none"/><path d="M590.40,78.94V105.14M588.80,78.94H592.00M588.80,105.14H592.00" stroke="#000000" stroke-width="0.8" fill="none"/><path d="M625.72,62.70V92.04M624.12,62.70H627.32M624.12,92.04H627.32" stroke="#000000" stroke-width="0.8" fill="none"/><polyline points="502.10,128.72 528.59,122.96 563.91,114.57 590.40,92.04 625.72,77.37" stroke="#000000" stroke-width="0.9" fill="none"/><circle cx="502.10" cy="128.72" r="2.20" fill="#000000"/><circle cx="528.59" cy="122.96" r="2.20" fill="#000000"/><circle cx="563.91" cy="114.57" r="2.20" fill="#000000"/><circle cx="590.40" cy="92.04" r="2.20" fill="#000000"/><circle cx="625.72" cy="77.37" r="2.20" fill="#000000"/>
<path d="M367.30,228.61V231.02M365.70,228.61H368.90M365.70,231.02H368.90" stroke="#ff1010" stroke-width="0.8" fill="none"/><path d="M391.00,224.98V228.61M389.40,224.98H392.60M389.40,228.61H392.60" stroke="#ff1010" stroke-width="0.8" fill="none"/><path d="M422.60,227.40V231.02M421.00,227.40H424.20M421.00,231.02H424.20" stroke="#ff1010" stroke-width="0.8" fill="none"/><path d="M446.30,227.40V231.02M444.70,227.40H447.90M444.70,231.02H447.90" stroke="#ff1010" stroke-width="0.8" fill="none"/><path d="M477.90,229.21V232.84M476.30,229.21H479.50M476.30,232.84H479.50" stroke="#ff1010" stroke-width="0.8" fill="none"/><polyline points="367.30,229.82 391.00,226.80 422.60,229.21 446.30,229.21 477.90,231.02" stroke="#ff1010" stroke-width="0.9" fill="none"/><path d="M364.88,228.00L369.72,228.00L367.30,232.36Z" fill="#ff0000"/><path d="M388.58,224.98L393.42,224.98L391.00,229.34Z" fill="#ff0000"/><path d="M420.18,227.40L425.02,227.40L422.60,231.75Z" fill="#ff0000"/><path d="M443.88,227.40L448.72,227.40L446.30,231.75Z" fill="#ff0000"/><path d="M475.48,229.21L480.32,229.21L477.90,233.56Z" fill="#ff0000"/>
<path d="M367.30,229.82V232.23M365.70,229.82H368.90M365.70,232.23H368.90" stroke="#0a0aff" stroke-width="0.8" fill="none"/><path d="M391.00,222.57V226.19M389.40,222.57H392.60M389.40,226.19H392.60" stroke="#0a0aff" stroke-width="0.8" fill="none"/><path d="M422.60,218.94V224.98M421.00,218.94H424.20M421.00,224.98H424.20" stroke="#0a0aff" stroke-width="0.8" fill="none"/><path d="M446.30,212.90V227.40M444.70,212.90H447.90M444.70,227.40H447.90" stroke="#0a0aff" stroke-width="0.8" fill="none"/><path d="M477.90,207.47V219.55M476.30,207.47H479.50M476.30,219.55H479.50" stroke="#0a0aff" stroke-width="0.8" fill="none"/><polyline points="367.30,231.02 391.00,224.38 422.60,221.96 446.30,220.15 477.90,213.51" stroke="#0a0aff" stroke-width="0.9" fill="none"/><rect x="365.21" y="228.93" width="4.18" height="4.18" fill="#0000e0"/><rect x="388.91" y="222.29" width="4.18" height="4.18" fill="#0000e0"/><rect x="420.51" y="219.87" width="4.18" height="4.18" fill="#0000e0"/><rect x="444.21" y="218.06" width="4.18" height="4.18" fill="#0000e0"/><rect x="475.81" y="211.42" width="4.18" height="4.18" fill="#0000e0"/>
<path d="M367.30,229.82V232.23M365.70,229.82H368.90M365.70,232.23H368.90" stroke="#7a10a8" stroke-width="0.8" fill="none"/><path d="M391.00,218.94V223.78M389.40,218.94H392.60M389.40,223.78H392.60" stroke="#7a10a8" stroke-width="0.8" fill="none"/><path d="M422.60,205.66V211.70M421.00,205.66H424.20M421.00,211.70H424.20" stroke="#7a10a8" stroke-width="0.8" fill="none"/><path d="M446.30,182.10V194.18M444.70,182.10H447.90M444.70,194.18H447.90" stroke="#7a10a8" stroke-width="0.8" fill="none"/><path d="M477.90,167.00V191.16M476.30,167.00H479.50M476.30,191.16H479.50" stroke="#7a10a8" stroke-width="0.8" fill="none"/><polyline points="367.30,231.02 391.00,221.36 422.60,208.68 446.30,188.14 477.90,179.08" stroke="#7a10a8" stroke-width="0.9" fill="none"/><circle cx="367.30" cy="231.02" r="2.09" fill="#6a009a"/><circle cx="391.00" cy="221.36" r="2.09" fill="#6a009a"/><circle cx="422.60" cy="208.68" r="2.09" fill="#6a009a"/><circle cx="446.30" cy="188.14" r="2.09" fill="#6a009a"/><circle cx="477.90" cy="179.08" r="2.09" fill="#6a009a"/>
<path d="M367.30,229.82V232.23M365.70,229.82H368.90M365.70,232.23H368.90" stroke="#108a10" stroke-width="0.8" fill="none"/><path d="M391.00,216.53V221.36M389.40,216.53H392.60M389.40,221.36H392.60" stroke="#108a10" stroke-width="0.8" fill="none"/><path d="M422.60,200.22V209.88M421.00,200.22H424.20M421.00,209.88H424.20" stroke="#108a10" stroke-width="0.8" fill="none"/><path d="M446.30,176.66V191.16M444.70,176.66H447.90M444.70,191.16H447.90" stroke="#108a10" stroke-width="0.8" fill="none"/><path d="M477.90,165.19V183.31M476.30,165.19H479.50M476.30,183.31H479.50" stroke="#108a10" stroke-width="0.8" fill="none"/><polyline points="367.30,231.02 391.00,218.94 422.60,205.05 446.30,183.91 477.90,174.25" stroke="#108a10" stroke-width="0.9" fill="none"/><path d="M367.30,228.49L369.83,231.02L367.30,233.55L364.77,231.02Z" fill="#007a00"/><path d="M391.00,216.41L393.53,218.94L391.00,221.47L388.47,218.94Z" fill="#007a00"/><path d="M422.60,202.52L425.13,205.05L422.60,207.58L420.07,205.05Z" fill="#007a00"/><path d="M446.30,181.38L448.83,183.91L446.30,186.44L443.77,183.91Z" fill="#007a00"/><path d="M477.90,171.72L480.43,174.25L477.90,176.78L475.37,174.25Z" fill="#007a00"/>
<path d="M367.30,229.82V232.23M365.70,229.82H368.90M365.70,232.23H368.90" stroke="#000000" stroke-width="0.8" fill="none"/><path d="M391.00,221.96V225.59M389.40,221.96H392.60M389.40,225.59H392.60" stroke="#000000" stroke-width="0.8" fill="none"/><path d="M422.60,209.88V215.92M421.00,209.88H424.20M421.00,215.92H424.20" stroke="#000000" stroke-width="0.8" fill="none"/><path d="M446.30,173.04V199.62M444.70,173.04H447.90M444.70,199.62H447.90" stroke="#000000" stroke-width="0.8" fill="none"/><path d="M477.90,153.71V182.70M476.30,153.71H479.50M476.30,182.70H479.50" stroke="#000000" stroke-width="0.8" fill="none"/><polyline points="367.30,231.02 391.00,223.78 422.60,212.90 446.30,186.33 477.90,168.21" stroke="#000000" stroke-width="0.9" fill="none"/><circle cx="367.30" cy="231.02" r="2.20" fill="#000000"/><circle cx="391.00" cy="223.78" r="2.20" fill="#000000"/><circle cx="422.60" cy="212.90" r="2.20" fill="#000000"/><circle cx="446.30" cy="186.33" r="2.20" fill="#000000"/><circle cx="477.90" cy="168.21" r="2.20" fill="#000000"/>
<path d="M502.10,228.61V231.02M500.50,228.61H503.70M500.50,231.02H503.70" stroke="#ff6a10" stroke-width="0.8" fill="none"/><path d="M528.95,223.17V226.80M527.35,223.17H530.55M527.35,226.80H530.55" stroke="#ff6a10" stroke-width="0.8" fill="none"/><path d="M564.75,219.55V225.59M563.15,219.55H566.35M563.15,225.59H566.35" stroke="#ff6a10" stroke-width="0.8" fill="none"/><path d="M591.60,211.70V221.36M590.00,211.70H593.20M590.00,221.36H593.20" stroke="#ff6a10" stroke-width="0.8" fill="none"/><path d="M627.40,200.22V218.34M625.80,200.22H629.00M625.80,218.34H629.00" stroke="#ff6a10" stroke-width="0.8" fill="none"/><polyline points="502.10,229.82 528.95,224.98 564.75,222.57 591.60,216.53 627.40,209.28" stroke="#ff6a10" stroke-width="0.9" fill="none"/><path d="M499.68,231.63L504.52,231.63L502.10,227.28Z" fill="#ff6000"/><path d="M526.53,226.80L531.37,226.80L528.95,222.44Z" fill="#ff6000"/><path d="M562.33,224.38L567.17,224.38L564.75,220.03Z" fill="#ff6000"/><path d="M589.18,218.34L594.02,218.34L591.60,213.99Z" fill="#ff6000"/><path d="M624.98,211.09L629.82,211.09L627.40,206.74Z" fill="#ff6000"/>
<path d="M502.10,227.40V229.82M500.50,227.40H503.70M500.50,229.82H503.70" stroke="#ff1010" stroke-width="0.8" fill="none"/><path d="M528.95,221.36V224.98M527.35,221.36H530.55M527.35,224.98H530.55" stroke="#ff1010" stroke-width="0.8" fill="none"/><path d="M564.75,217.13V223.17M563.15,217.13H566.35M563.15,223.17H566.35" stroke="#ff1010" stroke-width="0.8" fill="none"/><path d="M591.60,205.05V214.72M590.00,205.05H593.20M590.00,214.72H593.20" stroke="#ff1010" stroke-width="0.8" fill="none"/><path d="M627.40,196.60V208.68M625.80,196.60H629.00M625.80,208.68H629.00" stroke="#ff1010" stroke-width="0.8" fill="none"/><polyline points="502.10,228.61 528.95,223.17 564.75,220.15 591.60,209.88 627.40,202.64" stroke="#ff1010" stroke-width="0.9" fill="none"/><path d="M499.68,226.79L504.52,226.79L502.10,231.15Z" fill="#ff0000"/><path d="M526.53,221.36L531.37,221.36L528.95,225.71Z" fill="#ff0000"/><path d="M562.33,218.34L567.17,218.34L564.75,222.69Z" fill="#ff0000"/><path d="M589.18,208.07L594.02,208.07L591.60,212.43Z" fill="#ff0000"/><path d="M624.98,200.82L629.82,200.82L627.40,205.18Z" fill="#ff0000"/>
<path d="M502.10,228.61V231.02M500.50,228.61H503.70M500.50,231.02H503.70" stroke="#0a0aff" stroke-width="0.8" fill="none"/><path d="M528.95,221.36V224.98M527.35,221.36H530.55M527.35,224.98H530.55" stroke="#0a0aff" stroke-width="0.8" fill="none"/><path d="M564.75,215.32V221.36M563.15,215.32H566.35M563.15,221.36H566.35" stroke="#0a0aff" stroke-width="0.8" fill="none"/><path d="M591.60,201.43V211.09M590.00,201.43H593.20M590.00,211.09H593.20" stroke="#0a0aff" stroke-width="0.8" fill="none"/><path d="M627.40,185.12V199.62M625.80,185.12H629.00M625.80,199.62H629.00" stroke="#0a0aff" stroke-width="0.8" fill="none"/><polyline points="502.10,229.82 528.95,223.17 564.75,218.34 591.60,206.26 627.40,192.37" stroke="#0a0aff" stroke-width="0.9" fill="none"/><rect x="500.01" y="227.73" width="4.18" height="4.18" fill="#0000e0"/><rect x="526.86" y="221.08" width="4.18" height="4.18" fill="#0000e0"/><rect x="562.66" y="216.25" width="4.18" height="4.18" fill="#0000e0"/><rect x="589.51" y="204.17" width="4.18" height="4.18" fill="#0000e0"/><rect x="625.31" y="190.28" width="4.18" height="4.18" fill="#0000e0"/>
<path d="M502.10,228.61V231.02M500.50,228.61H503.70M500.50,231.02H503.70" stroke="#7a10a8" stroke-width="0.8" fill="none"/><path d="M528.95,221.36V224.98M527.35,221.36H530.55M527.35,224.98H530.55" stroke="#7a10a8" stroke-width="0.8" fill="none"/><path d="M564.75,211.09V223.17M563.15,211.09H566.35M563.15,223.17H566.35" stroke="#7a10a8" stroke-width="0.8" fill="none"/><path d="M591.60,168.21V228.61M590.00,168.21H593.20M590.00,228.61H593.20" stroke="#7a10a8" stroke-width="0.8" fill="none"/><path d="M627.40,173.04V191.16M625.80,173.04H629.00M625.80,191.16H629.00" stroke="#7a10a8" stroke-width="0.8" fill="none"/><polyline points="502.10,229.82 528.95,223.17 564.75,217.13 591.60,198.41 627.40,182.10" stroke="#7a10a8" stroke-width="0.9" fill="none"/><circle cx="502.10" cy="229.82" r="2.09" fill="#6a009a"/><circle cx="528.95" cy="223.17" r="2.09" fill="#6a009a"/><circle cx="564.75" cy="217.13" r="2.09" fill="#6a009a"/><circle cx="591.60" cy="198.41" r="2.09" fill="#6a009a"/><circle cx="627.40" cy="182.10" r="2.09" fill="#6a009a"/>
<path d="M502.10,228.61V231.02M500.50,228.61H503.70M500.50,231.02H503.70" stroke="#108a10" stroke-width="0.8" fill="none"/><path d="M528.95,221.36V224.98M527.35,221.36H530.55M527.35,224.98H530.55" stroke="#108a10" stroke-width="0.8" fill="none"/><path d="M564.75,209.28V215.32M563.15,209.28H566.35M563.15,215.32H566.35" stroke="#108a10" stroke-width="0.8" fill="none"/><path d="M591.60,182.10V194.18M590.00,182.10H593.20M590.00,194.18H593.20" stroke="#108a10" stroke-width="0.8" fill="none"/><path d="M627.40,165.19V183.31M625.80,165.19H629.00M625.80,183.31H629.00" stroke="#108a10" stroke-width="0.8" fill="none"/><polyline points="502.10,229.82 528.95,223.17 564.75,212.30 591.60,188.14 627.40,174.25" stroke="#108a10" stroke-width="0.9" fill="none"/><path d="M502.10,227.29L504.63,229.82L502.10,232.35L499.57,229.82Z" fill="#007a00"/><path d="M528.95,220.64L531.48,223.17L528.95,225.70L526.42,223.17Z" fill="#007a00"/><path d="M564.75,209.77L567.28,212.30L564.75,214.83L562.22,212.30Z" fill="#007a00"/><path d="M591.60,185.61L594.13,188.14L591.60,190.67L589.07,188.14Z" fill="#007a00"/><path d="M627.40,171.72L629.93,174.25L627.40,176.78L624.87,174.25Z" fill="#007a00"/>
<path d="M502.10,228.61V231.02M500.50,228.61H503.70M500.50,231.02H503.70" stroke="#000000" stroke-width="0.8" fill="none"/><path d="M528.95,221.36V224.98M527.35,221.36H530.55M527.35,224.98H530.55" stroke="#000000" stroke-width="0.8" fill="none"/><path d="M564.75,209.28V215.32M563.15,209.28H566.35M563.15,215.32H566.35" stroke="#000000" stroke-width="0.8" fill="none"/><path d="M591.60,174.85V199.01M590.00,174.85H593.20M590.00,199.01H593.20" stroke="#000000" stroke-width="0.8" fill="none"/><path d="M627.40,153.11V183.31M625.80,153.11H629.00M625.80,183.31H629.00" stroke="#000000" stroke-width="0.8" fill="none"/><polyline points="502.10,229.82 528.95,223.17 564.75,212.30 591.60,186.93 627.40,168.21" stroke="#000000" stroke-width="0.9" fill="none"/><circle cx="502.10" cy="229.82" r="2.20" fill="#000000"/><circle cx="528.95" cy="223.17" r="2.20" fill="#000000"/><circle cx="564.75" cy="212.30" r="2.20" fill="#000000"/><circle cx="591.60" cy="186.93" r="2.20" fill="#000000"/><circle cx="627.40" cy="168.21" r="2.20" fill="#000000"/>
<defs><filter id="bl3" x="-50%" y="-50%" width="200%" height="200%"><feGaussianBlur stdDeviation="0.3"/></filter><filter id="bl4" x="-50%" y="-50%" width="200%" height="200%"><feGaussianBlur stdDeviation="0.4"/></filter><filter id="bl5" x="-50%" y="-50%" width="200%" height="200%"><feGaussianBlur stdDeviation="0.5"/></filter><filter id="bl6" x="-50%" y="-50%" width="200%" height="200%"><feGaussianBlur stdDeviation="0.6"/></filter><filter id="bl7" x="-50%" y="-50%" width="200%" height="200%"><feGaussianBlur stdDeviation="0.7"/></filter><filter id="bl8" x="-50%" y="-50%" width="200%" height="200%"><feGaussianBlur stdDeviation="0.8"/></filter><filter id="bl10" x="-50%" y="-50%" width="200%" height="200%"><feGaussianBlur stdDeviation="1.0"/></filter><filter id="bl12" x="-50%" y="-50%" width="200%" height="200%"><feGaussianBlur stdDeviation="1.2"/></filter><filter id="bl15" x="-50%" y="-50%" width="200%" height="200%"><feGaussianBlur stdDeviation="1.5"/></filter><filter id="bl20" x="-50%" y="-50%" width="200%" height="200%"><feGaussianBlur stdDeviation="2.0"/></filter><filter id="bl30" x="-50%" y="-50%" width="200%" height="200%"><feGaussianBlur stdDeviation="3.0"/></filter><linearGradient id="lg1" x1="0" y1="0" x2="1" y2="0"><stop offset="0" stop-color="#98a07c"/><stop offset="0.5" stop-color="#b8c286"/><stop offset="1" stop-color="#b6c084"/></linearGradient><radialGradient id="rg2" cx="0.6" cy="0.45" r="0.55"><stop offset="0" stop-color="#c8d090" stop-opacity="0.5"/><stop offset="0.5" stop-color="#c8d090" stop-opacity="0.25"/><stop offset="1" stop-color="#c8d090" stop-opacity="0"/></radialGradient><radialGradient id="rg3" cx="0.5" cy="0.5" r="0.75"><stop offset="0.25" stop-color="#404838" stop-opacity="0"/><stop offset="0.6" stop-color="#404838" stop-opacity="0.0525"/><stop offset="0.85" stop-color="#404838" stop-opacity="0.175"/><stop offset="1" stop-color="#404838" stop-opacity="0.35"/></radialGradient><radialGradient id="rg4" cx="0.5" cy="0.5" r="0.5"><stop offset="0" stop-color="#3e4420" stop-opacity="0.8"/><stop offset="0.448" stop-color="#3e4420" stop-opacity="0.8"/><stop offset="1" stop-color="#3e4420" stop-opacity="0"/></radialGradient><linearGradient id="lg5" x1="0" y1="0" x2="1" y2="0"><stop offset="0" stop-color="#8a9280"/><stop offset="0.45" stop-color="#a6ae8a"/><stop offset="1" stop-color="#bcc488"/></linearGradient><radialGradient id="rg6" cx="0.7" cy="0.4" r="0.55"><stop offset="0" stop-color="#c4cc88" stop-opacity="0.5"/><stop offset="0.5" stop-color="#c4cc88" stop-opacity="0.25"/><stop offset="1" stop-color="#c4cc88" stop-opacity="0"/></radialGradient><radialGradient id="rg7" cx="0.5" cy="0.5" r="0.75"><stop offset="0.25" stop-color="#404040" stop-opacity="0"/><stop offset="0.6" stop-color="#404040" stop-opacity="0.045"/><stop offset="0.85" stop-color="#404040" stop-opacity="0.15"/><stop offset="1" stop-color="#404040" stop-opacity="0.3"/></radialGradient><radialGradient id="rg8" cx="0.5" cy="0.5" r="0.5"><stop offset="0" stop-color="#36381c" stop-opacity="0.92"/><stop offset="0.59" stop-color="#36381c" stop-opacity="0.92"/><stop offset="1" stop-color="#36381c" stop-opacity="0"/></radialGradient><linearGradient id="lg9" x1="0" y1="0" x2="1" y2="0.3"><stop offset="0" stop-color="#74745a"/><stop offset="0.5" stop-color="#969648"/><stop offset="1" stop-color="#a4a440"/></linearGradient><radialGradient id="rg10" cx="0.65" cy="0.5" r="0.55"><stop offset="0" stop-color="#acac40" stop-opacity="0.5"/><stop offset="0.5" stop-color="#acac40" stop-opacity="0.25"/><stop offset="1" stop-color="#acac40" stop-opacity="0"/></radialGradient><radialGradient id="rg11" cx="0.5" cy="0.5" r="0.75"><stop offset="0.25" stop-color="#303020" stop-opacity="0"/><stop offset="0.6" stop-color="#303020" stop-opacity="0.045"/><stop offset="0.85" stop-color="#303020" stop-opacity="0.15"/><stop offset="1" stop-color="#303020" stop-opacity="0.3"/></radialGradient><radialGradient id="rg12" cx="0.5" cy="0.5" r="0.5"><stop offset="0" stop-color="#383a24" stop-opacity="0.95"/><stop offset="0.61" stop-color="#383a24" stop-opacity="0.95"/><stop offset="1" stop-color="#383a24" stop-opacity="0"/></radialGradient><linearGradient id="lg13" x1="0" y1="0" x2="1" y2="0"><stop offset="0" stop-color="#7c8058"/><stop offset="0.5" stop-color="#9ca048"/><stop offset="1" stop-color="#b4bc3c"/></linearGradient><radialGradient id="rg14" cx="0.75" cy="0.45" r="0.55"><stop offset="0" stop-color="#c0c838" stop-opacity="0.5"/><stop offset="0.5" stop-color="#c0c838" stop-opacity="0.25"/><stop offset="1" stop-color="#c0c838" stop-opacity="0"/></radialGradient><radialGradient id="rg15" cx="0.5" cy="0.5" r="0.75"><stop offset="0.25" stop-color="#303020" stop-opacity="0"/><stop offset="0.6" stop-color="#303020" stop-opacity="0.045"/><stop offset="0.85" stop-color="#303020" stop-opacity="0.15"/><stop offset="1" stop-color="#303020" stop-opacity="0.3"/></radialGradient><linearGradient id="lg16" x1="0" y1="0" x2="1" y2="0"><stop offset="0" stop-color="#8a8e94"/><stop offset="0.18" stop-color="#a0a070"/><stop offset="0.5" stop-color="#a8a858"/><stop offset="1" stop-color="#b0b04c"/></linearGradient><radialGradient id="rg17" cx="0.65" cy="0.5" r="0.55"><stop offset="0" stop-color="#b8b848" stop-opacity="0.35"/><stop offset="0.5" stop-color="#b8b848" stop-opacity="0.175"/><stop offset="1" stop-color="#b8b848" stop-opacity="0"/></radialGradient><radialGradient id="rg18" cx="0.5" cy="0.5" r="0.75"><stop offset="0.25" stop-color="#303028" stop-opacity="0"/><stop offset="0.6" stop-color="#303028" stop-opacity="0.0375"/><stop offset="0.85" stop-color="#303028" stop-opacity="0.125"/><stop offset="1" stop-color="#303028" stop-opacity="0.25"/></radialGradient><radialGradient id="rg19" cx="0.5" cy="0.5" r="0.5"><stop offset="0" stop-color="#10a010" stop-opacity="0.22"/><stop offset="0.583" stop-color="#10a010" stop-opacity="0.22"/><stop offset="1" stop-color="#10a010" stop-opacity="0"/></radialGradient><radialGradient id="rg20" cx="0.5" cy="0.5" r="0.5"><stop offset="0" stop-color="#10a010" stop-opacity="0.22"/><stop offset="0.583" stop-color="#10a010" stop-opacity="0.22"/><stop offset="1" stop-color="#10a010" stop-opacity="0"/></radialGradient><linearGradient id="lg21" x1="0" y1="0" x2="1" y2="1"><stop offset="0" stop-color="#060002"/><stop offset="1" stop-color="#0c0202"/></linearGradient><radialGradient id="rg22" cx="0.5" cy="0.5" r="0.5"><stop offset="0" stop-color="#3a0606" stop-opacity="0.8"/><stop offset="0.688" stop-color="#3a0606" stop-opacity="0.8"/><stop offset="1" stop-color="#3a0606" stop-opacity="0"/></radialGradient><radialGradient id="rg23" cx="0.5" cy="0.5" r="0.5"><stop offset="0" stop-color="#b01818" stop-opacity="0.6"/><stop offset="0.333" stop-color="#b01818" stop-opacity="0.6"/><stop offset="1" stop-color="#b01818" stop-opacity="0"/></radialGradient><radialGradient id="rg24" cx="0.5" cy="0.5" r="0.5"><stop offset="0" stop-color="#901010" stop-opacity="0.5"/><stop offset="0.25" stop-color="#901010" stop-opacity="0.5"/><stop offset="1" stop-color="#901010" stop-opacity="0"/></radialGradient><linearGradient id="lg25" x1="0" y1="0" x2="1" y2="1"><stop offset="0" stop-color="#98a07c"/><stop offset="0.5" stop-color="#bcc486"/><stop offset="1" stop-color="#b0b87e"/></linearGradient><radialGradient id="rg26" cx="0.6" cy="0.5" r="0.55"><stop offset="0" stop-color="#c8d090" stop-opacity="0.5"/><stop offset="0.5" stop-color="#c8d090" stop-opacity="0.25"/><stop offset="1" stop-color="#c8d090" stop-opacity="0"/></radialGradient><radialGradient id="rg27" cx="0.5" cy="0.5" r="0.75"><stop offset="0.25" stop-color="#404838" stop-opacity="0"/><stop offset="0.6" stop-color="#404838" stop-opacity="0.045"/><stop offset="0.85" stop-color="#404838" stop-opacity="0.15"/><stop offset="1" stop-color="#404838" stop-opacity="0.3"/></radialGradient><radialGradient id="rg28" cx="0.5" cy="0.5" r="0.5"><stop offset="0" stop-color="#3e4420" stop-opacity="0.8"/><stop offset="0.448" stop-color="#3e4420" stop-opacity="0.8"/><stop offset="1" stop-color="#3e4420" stop-opacity="0"/></radialGradient><linearGradient id="lg29" x1="0" y1="0" x2="1" y2="0"><stop offset="0" stop-color="#8a9284"/><stop offset="0.5" stop-color="#a6ae8c"/><stop offset="1" stop-color="#b8c08c"/></linearGradient><radialGradient id="rg30" cx="0.7" cy="0.45" r="0.55"><stop offset="0" stop-color="#c0c890" stop-opacity="0.4"/><stop offset="0.5" stop-color="#c0c890" stop-opacity="0.2"/><stop offset="1" stop-color="#c0c890" stop-opacity="0"/></radialGradient><radialGradient id="rg31" cx="0.5" cy="0.5" r="0.75"><stop offset="0.25" stop-color="#404040" stop-opacity="0"/><stop offset="0.6" stop-color="#404040" stop-opacity="0.045"/><stop offset="0.85" stop-color="#404040" stop-opacity="0.15"/><stop offset="1" stop-color="#404040" stop-opacity="0.3"/></radialGradient><radialGradient id="rg32" cx="0.5" cy="0.5" r="0.5"><stop offset="0" stop-color="#36381c" stop-opacity="0.92"/><stop offset="0.579" stop-color="#36381c" stop-opacity="0.92"/><stop offset="1" stop-color="#36381c" stop-opacity="0"/></radialGradient><linearGradient id="lg33" x1="0" y1="0" x2="1" y2="0"><stop offset="0" stop-color="#a0a884"/><stop offset="0.5" stop-color="#b4bc84"/><stop offset="1" stop-color="#b8c080"/></linearGradient><radialGradient id="rg34" cx="0.65" cy="0.5" r="0.55"><stop offset="0" stop-color="#c0c888" stop-opacity="0.5"/><stop offset="0.5" stop-color="#c0c888" stop-opacity="0.25"/><stop offset="1" stop-color="#c0c888" stop-opacity="0"/></radialGradient><radialGradient id="rg35" cx="0.5" cy="0.5" r="0.75"><stop offset="0.25" stop-color="#404040" stop-opacity="0"/><stop offset="0.6" stop-color="#404040" stop-opacity="0.0375"/><stop offset="0.85" stop-color="#404040" stop-opacity="0.125"/><stop offset="1" stop-color="#404040" stop-opacity="0.25"/></radialGradient><radialGradient id="rg36" cx="0.5" cy="0.5" r="0.5"><stop offset="0" stop-color="#36381c" stop-opacity="0.92"/><stop offset="0.579" stop-color="#36381c" stop-opacity="0.92"/><stop offset="1" stop-color="#36381c" stop-opacity="0"/></radialGradient><linearGradient id="lg37" x1="0" y1="0" x2="1" y2="0"><stop offset="0" stop-color="#80888e"/><stop offset="0.5" stop-color="#a0a890"/><stop offset="1" stop-color="#b4bc88"/></linearGradient><radialGradient id="rg38" cx="0.7" cy="0.5" r="0.55"><stop offset="0" stop-color="#bcc488" stop-opacity="0.4"/><stop offset="0.5" stop-color="#bcc488" stop-opacity="0.2"/><stop offset="1" stop-color="#bcc488" stop-opacity="0"/></radialGradient><radialGradient id="rg39" cx="0.5" cy="0.5" r="0.75"><stop offset="0.25" stop-color="#404048" stop-opacity="0"/><stop offset="0.6" stop-color="#404048" stop-opacity="0.0375"/><stop offset="0.85" stop-color="#404048" stop-opacity="0.125"/><stop offset="1" stop-color="#404048" stop-opacity="0.25"/></radialGradient><linearGradient id="lg40" x1="0" y1="0" x2="1" y2="0"><stop offset="0" stop-color="#a0a098"/><stop offset="0.3" stop-color="#c0c070"/><stop offset="1" stop-color="#d0d050"/></linearGradient><radialGradient id="rg41" cx="0.6" cy="0.4" r="0.55"><stop offset="0" stop-color="#d8d848" stop-opacity="0.4"/><stop offset="0.5" stop-color="#d8d848" stop-opacity="0.2"/><stop offset="1" stop-color="#d8d848" stop-opacity="0"/></radialGradient><radialGradient id="rg42" cx="0.5" cy="0.5" r="0.75"><stop offset="0.25" stop-color="#303020" stop-opacity="0"/><stop offset="0.6" stop-color="#303020" stop-opacity="0.03"/><stop offset="0.85" stop-color="#303020" stop-opacity="0.1"/><stop offset="1" stop-color="#303020" stop-opacity="0.2"/></radialGradient><radialGradient id="rg43" cx="0.5" cy="0.5" r="0.5"><stop offset="0" stop-color="#34341c" stop-opacity="1"/><stop offset="0.625" stop-color="#34341c" stop-opacity="1"/><stop offset="1" stop-color="#34341c" stop-opacity="0"/></radialGradient><linearGradient id="lg44" x1="0" y1="1" x2="1" y2="0"><stop offset="0" stop-color="#2e1808"/><stop offset="0.45" stop-color="#0e0c04"/><stop offset="1" stop-color="#060a04"/></linearGradient><radialGradient id="rg45" cx="0.5" cy="0.5" r="0.5"><stop offset="0" stop-color="#30d030" stop-opacity="1"/><stop offset="0.625" stop-color="#30d030" stop-opacity="1"/><stop offset="1" stop-color="#30d030" stop-opacity="0"/></radialGradient><radialGradient id="rg46" cx="0.5" cy="0.5" r="0.5"><stop offset="0" stop-color="#50f050" stop-opacity="0.7"/><stop offset="0.579" stop-color="#50f050" stop-opacity="0.7"/><stop offset="1" stop-color="#50f050" stop-opacity="0"/></radialGradient><radialGradient id="rg47" cx="0.5" cy="0.5" r="0.5"><stop offset="0" stop-color="#208020" stop-opacity="1"/><stop offset="0.333" stop-color="#208020" stop-opacity="1"/><stop offset="1" stop-color="#208020" stop-opacity="0"/></radialGradient><radialGradient id="rg48" cx="0.5" cy="0.5" r="0.5"><stop offset="0" stop-color="#208020" stop-opacity="1"/><stop offset="0.25" stop-color="#208020" stop-opacity="1"/><stop offset="1" stop-color="#208020" stop-opacity="0"/></radialGradient><radialGradient id="rg49" cx="0.5" cy="0.5" r="0.5"><stop offset="0" stop-color="#208020" stop-opacity="1"/><stop offset="0.333" stop-color="#208020" stop-opacity="1"/><stop offset="1" stop-color="#208020" stop-opacity="0"/></radialGradient><linearGradient id="lg50" x1="0" y1="1" x2="1" y2="0"><stop offset="0" stop-color="#062006"/><stop offset="1" stop-color="#031203"/></linearGradient><radialGradient id="rg51" cx="0.5" cy="0.5" r="0.5"><stop offset="0" stop-color="#30d030" stop-opacity="1"/><stop offset="0.667" stop-color="#30d030" stop-opacity="1"/><stop offset="1" stop-color="#30d030" stop-opacity="0"/></radialGradient><radialGradient id="rg52" cx="0.5" cy="0.5" r="0.5"><stop offset="0" stop-color="#50f050" stop-opacity="1"/><stop offset="0.684" stop-color="#50f050" stop-opacity="1"/><stop offset="1" stop-color="#50f050" stop-opacity="0"/></radialGradient><radialGradient id="rg53" cx="0.5" cy="0.5" r="0.5"><stop offset="0" stop-color="#208020" stop-opacity="1"/><stop offset="0.333" stop-color="#208020" stop-opacity="1"/><stop offset="1" stop-color="#208020" stop-opacity="0"/></radialGradient><radialGradient id="rg54" cx="0.5" cy="0.5" r="0.5"><stop offset="0" stop-color="#208020" stop-opacity="1"/><stop offset="0.333" stop-color="#208020" stop-opacity="1"/><stop offset="1" stop-color="#208020" stop-opacity="0"/></radialGradient><linearGradient id="lg55" x1="0" y1="1" x2="1" y2="0"><stop offset="0" stop-color="#360606"/><stop offset="0.5" stop-color="#1e0303"/><stop offset="1" stop-color="#100202"/></linearGradient><radialGradient id="rg56" cx="0.5" cy="0.5" r="0.5"><stop offset="0" stop-color="#a01818" stop-opacity="1"/><stop offset="0.375" stop-color="#a01818" stop-opacity="1"/><stop offset="1" stop-color="#a01818" stop-opacity="0"/></radialGradient><linearGradient id="lg57" x1="0" y1="0" x2="1" y2="0"><stop offset="0" stop-color="#a8a890"/><stop offset="0.5" stop-color="#cac690"/><stop offset="1" stop-color="#d0cc90"/></linearGradient><radialGradient id="rg58" cx="0.6" cy="0.45" r="0.55"><stop offset="0" stop-color="#d8d494" stop-opacity="0.5"/><stop offset="0.5" stop-color="#d8d494" stop-opacity="0.25"/><stop offset="1" stop-color="#d8d494" stop-opacity="0"/></radialGradient><radialGradient id="rg59" cx="0.5" cy="0.5" r="0.75"><stop offset="0.25" stop-color="#50504a" stop-opacity="0"/><stop offset="0.6" stop-color="#50504a" stop-opacity="0.0525"/><stop offset="0.85" stop-color="#50504a" stop-opacity="0.175"/><stop offset="1" stop-color="#50504a" stop-opacity="0.35"/></radialGradient><radialGradient id="rg60" cx="0.5" cy="0.5" r="0.5"><stop offset="0" stop-color="#585836" stop-opacity="0.85"/><stop offset="0.455" stop-color="#585836" stop-opacity="0.85"/><stop offset="1" stop-color="#585836" stop-opacity="0"/></radialGradient><linearGradient id="lg61" x1="0" y1="0" x2="1" y2="0"><stop offset="0" stop-color="#a09894"/><stop offset="0.45" stop-color="#b2a28e"/><stop offset="1" stop-color="#c0aa88"/></linearGradient><radialGradient id="rg62" cx="0.65" cy="0.5" r="0.55"><stop offset="0" stop-color="#c4ae88" stop-opacity="0.4"/><stop offset="0.5" stop-color="#c4ae88" stop-opacity="0.2"/><stop offset="1" stop-color="#c4ae88" stop-opacity="0"/></radialGradient><radialGradient id="rg63" cx="0.5" cy="0.5" r="0.75"><stop offset="0.25" stop-color="#484050" stop-opacity="0"/><stop offset="0.6" stop-color="#484050" stop-opacity="0.045"/><stop offset="0.85" stop-color="#484050" stop-opacity="0.15"/><stop offset="1" stop-color="#484050" stop-opacity="0.3"/></radialGradient><radialGradient id="rg64" cx="0.5" cy="0.5" r="0.5"><stop offset="0" stop-color="#4a4a36" stop-opacity="0.8"/><stop offset="0.478" stop-color="#4a4a36" stop-opacity="0.8"/><stop offset="1" stop-color="#4a4a36" stop-opacity="0"/></radialGradient><linearGradient id="lg65" x1="0" y1="0" x2="1" y2="0"><stop offset="0" stop-color="#8c7c70"/><stop offset="0.5" stop-color="#a48e6c"/><stop offset="1" stop-color="#b09868"/></linearGradient><radialGradient id="rg66" cx="0.6" cy="0.5" r="0.55"><stop offset="0" stop-color="#c0a874" stop-opacity="0.4"/><stop offset="0.5" stop-color="#c0a874" stop-opacity="0.2"/><stop offset="1" stop-color="#c0a874" stop-opacity="0"/></radialGradient><radialGradient id="rg67" cx="0.5" cy="0.5" r="0.75"><stop offset="0.25" stop-color="#403020" stop-opacity="0"/><stop offset="0.6" stop-color="#403020" stop-opacity="0.045"/><stop offset="0.85" stop-color="#403020" stop-opacity="0.15"/><stop offset="1" stop-color="#403020" stop-opacity="0.3"/></radialGradient><radialGradient id="rg68" cx="0.5" cy="0.5" r="0.5"><stop offset="0" stop-color="#464636" stop-opacity="0.85"/><stop offset="0.517" stop-color="#464636" stop-opacity="0.85"/><stop offset="1" stop-color="#464636" stop-opacity="0"/></radialGradient><linearGradient id="lg69" x1="0" y1="0" x2="1" y2="0"><stop offset="0" stop-color="#9c9cb4"/><stop offset="0.5" stop-color="#c4c0a8"/><stop offset="1" stop-color="#d0c8a0"/></linearGradient><radialGradient id="rg70" cx="0.65" cy="0.5" r="0.55"><stop offset="0" stop-color="#d4cc9c" stop-opacity="0.5"/><stop offset="0.5" stop-color="#d4cc9c" stop-opacity="0.25"/><stop offset="1" stop-color="#d4cc9c" stop-opacity="0"/></radialGradient><radialGradient id="rg71" cx="0.5" cy="0.5" r="0.75"><stop offset="0.25" stop-color="#404050" stop-opacity="0"/><stop offset="0.6" stop-color="#404050" stop-opacity="0.045"/><stop offset="0.85" stop-color="#404050" stop-opacity="0.15"/><stop offset="1" stop-color="#404050" stop-opacity="0.3"/></radialGradient><radialGradient id="rg72" cx="0.5" cy="0.5" r="0.5"><stop offset="0" stop-color="#404036" stop-opacity="0.88"/><stop offset="0.588" stop-color="#404036" stop-opacity="0.88"/><stop offset="1" stop-color="#404036" stop-opacity="0"/></radialGradient><linearGradient id="lg73" x1="0" y1="0" x2="1" y2="0"><stop offset="0" stop-color="#a8a8a0"/><stop offset="0.4" stop-color="#c8c8a0"/><stop offset="1" stop-color="#d2d298"/></linearGradient><radialGradient id="rg74" cx="0.65" cy="0.45" r="0.55"><stop offset="0" stop-color="#d8d898" stop-opacity="0.5"/><stop offset="0.5" stop-color="#d8d898" stop-opacity="0.25"/><stop offset="1" stop-color="#d8d898" stop-opacity="0"/></radialGradient><radialGradient id="rg75" cx="0.5" cy="0.5" r="0.75"><stop offset="0.25" stop-color="#404040" stop-opacity="0"/><stop offset="0.6" stop-color="#404040" stop-opacity="0.0375"/><stop offset="0.85" stop-color="#404040" stop-opacity="0.125"/><stop offset="1" stop-color="#404040" stop-opacity="0.25"/></radialGradient><radialGradient id="rg76" cx="0.5" cy="0.5" r="0.5"><stop offset="0" stop-color="#464636" stop-opacity="0.88"/><stop offset="0.6" stop-color="#464636" stop-opacity="0.88"/><stop offset="1" stop-color="#464636" stop-opacity="0"/></radialGradient><linearGradient id="lg77" x1="0" y1="0" x2="1" y2="1"><stop offset="0" stop-color="#0c0004"/><stop offset="1" stop-color="#1e0204"/></linearGradient><radialGradient id="rg78" cx="0.5" cy="0.5" r="0.5"><stop offset="0" stop-color="#208c20" stop-opacity="1"/><stop offset="0.778" stop-color="#208c20" stop-opacity="1"/><stop offset="1" stop-color="#208c20" stop-opacity="0"/></radialGradient><radialGradient id="rg79" cx="0.5" cy="0.5" r="0.5"><stop offset="0" stop-color="#30d030" stop-opacity="1"/><stop offset="0.746" stop-color="#30d030" stop-opacity="1"/><stop offset="1" stop-color="#30d030" stop-opacity="0"/></radialGradient><radialGradient id="rg80" cx="0.5" cy="0.5" r="0.5"><stop offset="0" stop-color="#28b828" stop-opacity="0.6"/><stop offset="0.636" stop-color="#28b828" stop-opacity="0.6"/><stop offset="1" stop-color="#28b828" stop-opacity="0"/></radialGradient><linearGradient id="lg81" x1="0" y1="0" x2="0" y2="1"><stop offset="0" stop-color="#0c0002"/><stop offset="1" stop-color="#1c0202"/></linearGradient><radialGradient id="rg82" cx="0.5" cy="0.5" r="0.5"><stop offset="0" stop-color="#600808" stop-opacity="0.8"/><stop offset="0.515" stop-color="#600808" stop-opacity="0.8"/><stop offset="1" stop-color="#600808" stop-opacity="0"/></radialGradient><linearGradient id="lg83" x1="0" y1="0" x2="1" y2="0"><stop offset="0" stop-color="#b0a8a0"/><stop offset="0.45" stop-color="#d0c888"/><stop offset="1" stop-color="#d4cc80"/></linearGradient><radialGradient id="rg84" cx="0.62" cy="0.42" r="0.55"><stop offset="0" stop-color="#e0d880" stop-opacity="0.5"/><stop offset="0.5" stop-color="#e0d880" stop-opacity="0.25"/><stop offset="1" stop-color="#e0d880" stop-opacity="0"/></radialGradient><radialGradient id="rg85" cx="0.5" cy="0.5" r="0.75"><stop offset="0.25" stop-color="#585050" stop-opacity="0"/><stop offset="0.6" stop-color="#585050" stop-opacity="0.0525"/><stop offset="0.85" stop-color="#585050" stop-opacity="0.175"/><stop offset="1" stop-color="#585050" stop-opacity="0.35"/></radialGradient><radialGradient id="rg86" cx="0.5" cy="0.5" r="0.5"><stop offset="0" stop-color="#585830" stop-opacity="0.85"/><stop offset="0.478" stop-color="#585830" stop-opacity="0.85"/><stop offset="1" stop-color="#585830" stop-opacity="0"/></radialGradient><linearGradient id="lg87" x1="0" y1="0" x2="1" y2="0"><stop offset="0" stop-color="#aab098"/><stop offset="0.5" stop-color="#c4cc90"/><stop offset="1" stop-color="#d0d890"/></linearGradient><radialGradient id="rg88" cx="0.7" cy="0.3" r="0.55"><stop offset="0" stop-color="#d8e090" stop-opacity="0.4"/><stop offset="0.5" stop-color="#d8e090" stop-opacity="0.2"/><stop offset="1" stop-color="#d8e090" stop-opacity="0"/></radialGradient><radialGradient id="rg89" cx="0.5" cy="0.5" r="0.75"><stop offset="0.25" stop-color="#404040" stop-opacity="0"/><stop offset="0.6" stop-color="#404040" stop-opacity="0.045"/><stop offset="0.85" stop-color="#404040" stop-opacity="0.15"/><stop offset="1" stop-color="#404040" stop-opacity="0.3"/></radialGradient><radialGradient id="rg90" cx="0.5" cy="0.5" r="0.5"><stop offset="0" stop-color="#484828" stop-opacity="0.85"/><stop offset="0.455" stop-color="#484828" stop-opacity="0.85"/><stop offset="1" stop-color="#484828" stop-opacity="0"/></radialGradient><linearGradient id="lg91" x1="0" y1="0" x2="1" y2="0"><stop offset="0" stop-color="#a8b080"/><stop offset="0.5" stop-color="#c0c860"/><stop offset="1" stop-color="#c4cc58"/></linearGradient><radialGradient id="rg92" cx="0.6" cy="0.5" r="0.55"><stop offset="0" stop-color="#d0d858" stop-opacity="0.4"/><stop offset="0.5" stop-color="#d0d858" stop-opacity="0.2"/><stop offset="1" stop-color="#d0d858" stop-opacity="0"/></radialGradient><radialGradient id="rg93" cx="0.5" cy="0.5" r="0.75"><stop offset="0.25" stop-color="#404030" stop-opacity="0"/><stop offset="0.6" stop-color="#404030" stop-opacity="0.045"/><stop offset="0.85" stop-color="#404030" stop-opacity="0.15"/><stop offset="1" stop-color="#404030" stop-opacity="0.3"/></radialGradient><radialGradient id="rg94" cx="0.5" cy="0.5" r="0.5"><stop offset="0" stop-color="#383820" stop-opacity="0.9"/><stop offset="0.556" stop-color="#383820" stop-opacity="0.9"/><stop offset="1" stop-color="#383820" stop-opacity="0"/></radialGradient><radialGradient id="rg95" cx="0.5" cy="0.5" r="0.5"><stop offset="0" stop-color="#484828" stop-opacity="1"/><stop offset="0.5" stop-color="#484828" stop-opacity="1"/><stop offset="1" stop-color="#484828" stop-opacity="0"/></radialGradient><radialGradient id="rg96" cx="0.5" cy="0.5" r="0.5"><stop offset="0" stop-color="#484828" stop-opacity="1"/><stop offset="0.25" stop-color="#484828" stop-opacity="1"/><stop offset="1" stop-color="#484828" stop-opacity="0"/></radialGradient><linearGradient id="lg97" x1="0" y1="0" x2="1" y2="0"><stop offset="0" stop-color="#b8c0b0"/><stop offset="0.5" stop-color="#ccd098"/><stop offset="1" stop-color="#d8d880"/></linearGradient><radialGradient id="rg98" cx="0.7" cy="0.6" r="0.55"><stop offset="0" stop-color="#e0e078" stop-opacity="0.4"/><stop offset="0.5" stop-color="#e0e078" stop-opacity="0.2"/><stop offset="1" stop-color="#e0e078" stop-opacity="0"/></radialGradient><radialGradient id="rg99" cx="0.5" cy="0.5" r="0.75"><stop offset="0.25" stop-color="#404040" stop-opacity="0"/><stop offset="0.6" stop-color="#404040" stop-opacity="0.0375"/><stop offset="0.85" stop-color="#404040" stop-opacity="0.125"/><stop offset="1" stop-color="#404040" stop-opacity="0.25"/></radialGradient><radialGradient id="rg100" cx="0.5" cy="0.5" r="0.5"><stop offset="0" stop-color="#404028" stop-opacity="0.88"/><stop offset="0.478" stop-color="#404028" stop-opacity="0.88"/><stop offset="1" stop-color="#404028" stop-opacity="0"/></radialGradient><radialGradient id="rg101" cx="0.5" cy="0.5" r="0.5"><stop offset="0" stop-color="#505038" stop-opacity="1"/><stop offset="0.571" stop-color="#505038" stop-opacity="1"/><stop offset="1" stop-color="#505038" stop-opacity="0"/></radialGradient><radialGradient id="rg102" cx="0.5" cy="0.5" r="0.5"><stop offset="0" stop-color="#505038" stop-opacity="1"/><stop offset="0.529" stop-color="#505038" stop-opacity="1"/><stop offset="1" stop-color="#505038" stop-opacity="0"/></radialGradient><linearGradient id="lg103" x1="0" y1="0" x2="1" y2="1"><stop offset="0" stop-color="#b0b0a0"/><stop offset="0.3" stop-color="#d0d060"/><stop offset="1" stop-color="#d4d458"/></linearGradient><radialGradient id="rg104" cx="0.6" cy="0.5" r="0.55"><stop offset="0" stop-color="#e0e050" stop-opacity="0.3"/><stop offset="0.5" stop-color="#e0e050" stop-opacity="0.15"/><stop offset="1" stop-color="#e0e050" stop-opacity="0"/></radialGradient><radialGradient id="rg105" cx="0.5" cy="0.5" r="0.75"><stop offset="0.25" stop-color="#404030" stop-opacity="0"/><stop offset="0.6" stop-color="#404030" stop-opacity="0.03"/><stop offset="0.85" stop-color="#404030" stop-opacity="0.1"/><stop offset="1" stop-color="#404030" stop-opacity="0.2"/></radialGradient><radialGradient id="rg106" cx="0.5" cy="0.5" r="0.5"><stop offset="0" stop-color="#505048" stop-opacity="1"/><stop offset="0.429" stop-color="#505048" stop-opacity="1"/><stop offset="1" stop-color="#505048" stop-opacity="0"/></radialGradient><radialGradient id="rg107" cx="0.5" cy="0.5" r="0.5"><stop offset="0" stop-color="#484828" stop-opacity="0.85"/><stop offset="0.4" stop-color="#484828" stop-opacity="0.85"/><stop offset="1" stop-color="#484828" stop-opacity="0"/></radialGradient><linearGradient id="lg108" x1="0" y1="0" x2="1" y2="1"><stop offset="0" stop-color="#160000"/><stop offset="1" stop-color="#320303"/></linearGradient><radialGradient id="rg109" cx="0.5" cy="0.5" r="0.5"><stop offset="0" stop-color="#38b838" stop-opacity="0.9"/><stop offset="0.455" stop-color="#38b838" stop-opacity="0.9"/><stop offset="1" stop-color="#38b838" stop-opacity="0"/></radialGradient><radialGradient id="rg110" cx="0.5" cy="0.5" r="0.5"><stop offset="0" stop-color="#902020" stop-opacity="1"/><stop offset="0.333" stop-color="#902020" stop-opacity="1"/><stop offset="1" stop-color="#902020" stop-opacity="0"/></radialGradient><radialGradient id="rg111" cx="0.5" cy="0.5" r="0.5"><stop offset="0" stop-color="#902020" stop-opacity="1"/><stop offset="0.333" stop-color="#902020" stop-opacity="1"/><stop offset="1" stop-color="#902020" stop-opacity="0"/></radialGradient><radialGradient id="rg112" cx="0.5" cy="0.5" r="0.5"><stop offset="0" stop-color="#28b028" stop-opacity="0.9"/><stop offset="0.4" stop-color="#28b028" stop-opacity="0.9"/><stop offset="1" stop-color="#28b028" stop-opacity="0"/></radialGradient><linearGradient id="lg113" x1="0" y1="1" x2="1" y2="0"><stop offset="0" stop-color="#3a0404"/><stop offset="0.5" stop-color="#260202"/><stop offset="1" stop-color="#180000"/></linearGradient><radialGradient id="rg114" cx="0.5" cy="0.5" r="0.5"><stop offset="0" stop-color="#801010" stop-opacity="1"/><stop offset="0.444" stop-color="#801010" stop-opacity="1"/><stop offset="1" stop-color="#801010" stop-opacity="0"/></radialGradient><radialGradient id="rg115" cx="0.5" cy="0.5" r="0.5"><stop offset="0" stop-color="#701010" stop-opacity="1"/><stop offset="0.333" stop-color="#701010" stop-opacity="1"/><stop offset="1" stop-color="#701010" stop-opacity="0"/></radialGradient><radialGradient id="rg116" cx="0.5" cy="0.5" r="0.5"><stop offset="0" stop-color="#701010" stop-opacity="1"/><stop offset="0.4" stop-color="#701010" stop-opacity="1"/><stop offset="1" stop-color="#701010" stop-opacity="0"/></radialGradient></defs><rect x="23.00" y="295.8" width="324.60" height="61.2" fill="#e0e0e0"/><rect x="361.60" y="295.8" width="322.64" height="61.2" fill="#e0e0e0"/><rect x="23.30" y="296.00" width="40.20" height="30.30" fill="url(#lg1)"/><rect x="23.30" y="296.00" width="40.20" height="30.30" fill="url(#rg2)"/><rect x="23.30" y="296.00" width="40.20" height="30.30" fill="url(#rg3)"/><rect x="23.30" y="296.00" width="40.20" height="30.30" fill="#000000" opacity="0.09"/><ellipse cx="42.7" cy="311" rx="2.90" ry="2.90" fill="url(#rg4)"/><rect x="57.20" y="324.50" width="4.6" height="1.1" fill="#e04038" opacity="0.95"/><rect x="63.88" y="296.00" width="40.20" height="30.30" fill="url(#lg5)"/><rect x="63.88" y="296.00" width="40.20" height="30.30" fill="url(#rg6)"/><rect x="63.88" y="296.00" width="40.20" height="30.30" fill="url(#rg7)"/><rect x="63.88" y="296.00" width="40.20" height="30.30" fill="#000000" opacity="0.06"/><ellipse cx="82.7" cy="311.8" rx="3.90" ry="3.90" fill="url(#rg8)"/><rect x="97.77" y="324.50" width="4.6" height="1.1" fill="#e04038" opacity="0.95"/><rect x="104.45" y="296.00" width="40.20" height="30.30" fill="url(#lg9)"/><rect x="104.45" y="296.00" width="40.20" height="30.30" fill="url(#rg10)"/><rect x="104.45" y="296.00" width="40.20" height="30.30" fill="url(#rg11)"/><rect x="104.45" y="296.00" width="40.20" height="30.30" fill="#000000" opacity="0.06"/><ellipse cx="125.5" cy="311.2" rx="4.40" ry="4.10" fill="url(#rg12)"/><rect x="138.34" y="324.50" width="4.6" height="1.1" fill="#e04038" opacity="0.95"/><rect x="145.03" y="296.00" width="40.20" height="30.30" fill="url(#lg13)"/><rect x="145.03" y="296.00" width="40.20" height="30.30" fill="url(#rg14)"/><rect x="145.03" y="296.00" width="40.20" height="30.30" fill="url(#rg15)"/><g><circle cx="169.98" cy="310.88" r="0.62" fill="#5a5a30" opacity="0.25"/><circle cx="169.26" cy="313.54" r="0.51" fill="#5a5a30" opacity="0.25"/><circle cx="168.13" cy="315.21" r="0.52" fill="#5a5a30" opacity="0.25"/><circle cx="164.31" cy="315.75" r="0.41" fill="#5a5a30" opacity="0.25"/><circle cx="163.38" cy="317.92" r="0.54" fill="#5a5a30" opacity="0.25"/><circle cx="160.30" cy="317.57" r="0.64" fill="#5a5a30" opacity="0.25"/><circle cx="157.92" cy="313.40" r="0.36" fill="#5a5a30" opacity="0.25"/><circle cx="157.83" cy="312.17" r="0.32" fill="#5a5a30" opacity="0.25"/><circle cx="158.85" cy="309.33" r="0.31" fill="#5a5a30" opacity="0.25"/><circle cx="160.11" cy="306.50" r="0.59" fill="#5a5a30" opacity="0.25"/><circle cx="162.42" cy="304.73" r="0.47" fill="#5a5a30" opacity="0.25"/><circle cx="165.48" cy="305.37" r="0.40" fill="#5a5a30" opacity="0.25"/><circle cx="169.53" cy="306.19" r="0.59" fill="#5a5a30" opacity="0.25"/><circle cx="168.89" cy="309.05" r="0.38" fill="#5a5a30" opacity="0.25"/></g><polygon points="167.38,311.80 166.92,313.63 165.71,314.97 164.27,316.24 162.46,315.66 160.74,315.16 159.37,313.78 159.47,311.80 159.57,309.92 160.70,308.38 162.45,307.92 164.19,307.69 165.94,308.33 166.97,309.95" fill="none" stroke="#383824" stroke-width="1.26" stroke-linejoin="round" opacity="0.45"/><polygon points="167.38,311.80 166.92,313.63 165.71,314.97 164.27,316.24 162.46,315.66 160.74,315.16 159.37,313.78 159.47,311.80 159.57,309.92 160.70,308.38 162.45,307.92 164.19,307.69 165.94,308.33 166.97,309.95" fill="#383824" opacity="1.00"/><rect x="178.92" y="324.50" width="4.6" height="1.1" fill="#e04038" opacity="0.95"/><rect x="185.60" y="296.00" width="40.20" height="30.30" fill="url(#lg16)"/><rect x="185.60" y="296.00" width="40.20" height="30.30" fill="url(#rg17)"/><rect x="185.60" y="296.00" width="40.20" height="30.30" fill="url(#rg18)"/><g><circle cx="214.78" cy="311.41" r="0.58" fill="#6a6a30" opacity="0.3"/><circle cx="213.48" cy="315.47" r="0.62" fill="#6a6a30" opacity="0.3"/><circle cx="212.51" cy="315.09" r="0.63" fill="#6a6a30" opacity="0.3"/><circle cx="209.40" cy="319.40" r="0.34" fill="#6a6a30" opacity="0.3"/><circle cx="206.58" cy="317.46" r="0.49" fill="#6a6a30" opacity="0.3"/><circle cx="204.21" cy="316.11" r="0.38" fill="#6a6a30" opacity="0.3"/><circle cx="200.76" cy="317.85" r="0.57" fill="#6a6a30" opacity="0.3"/><circle cx="199.16" cy="315.29" r="0.35" fill="#6a6a30" opacity="0.3"/><circle cx="200.49" cy="310.72" r="0.30" fill="#6a6a30" opacity="0.3"/><circle cx="201.08" cy="307.74" r="0.38" fill="#6a6a30" opacity="0.3"/><circle cx="201.60" cy="303.72" r="0.40" fill="#6a6a30" opacity="0.3"/><circle cx="204.94" cy="303.62" r="0.54" fill="#6a6a30" opacity="0.3"/><circle cx="205.44" cy="302.03" r="0.54" fill="#6a6a30" opacity="0.3"/><circle cx="211.35" cy="303.59" r="0.40" fill="#6a6a30" opacity="0.3"/><circle cx="210.61" cy="306.41" r="0.35" fill="#6a6a30" opacity="0.3"/><circle cx="212.12" cy="307.42" r="0.51" fill="#6a6a30" opacity="0.3"/></g><polygon points="212.39,310.20 212.07,312.33 210.53,313.78 209.28,315.15 207.87,316.67 205.90,316.91 203.97,316.53 202.41,315.32 200.89,314.08 200.01,312.24 199.73,310.20 200.38,308.29 201.01,306.42 202.37,305.02 203.96,303.83 205.90,303.25 207.90,303.63 209.51,304.91 210.80,306.41 211.51,308.26" fill="none" stroke="#38382a" stroke-width="1.44" stroke-linejoin="round" opacity="0.45"/><polygon points="212.39,310.20 212.07,312.33 210.53,313.78 209.28,315.15 207.87,316.67 205.90,316.91 203.97,316.53 202.41,315.32 200.89,314.08 200.01,312.24 199.73,310.20 200.38,308.29 201.01,306.42 202.37,305.02 203.96,303.83 205.90,303.25 207.90,303.63 209.51,304.91 210.80,306.41 211.51,308.26" fill="#38382a" opacity="1.00"/><polygon points="209.49,310.00 208.89,311.98 207.66,313.65 205.70,314.00 203.87,313.40 202.30,312.11 201.37,310.00 202.03,307.72 203.59,306.08 205.70,305.94 207.71,306.25 209.01,307.95" fill="none" stroke="#4a4a3a" stroke-width="1.80" stroke-linejoin="round" opacity="0.27"/><polygon points="209.49,310.00 208.89,311.98 207.66,313.65 205.70,314.00 203.87,313.40 202.30,312.11 201.37,310.00 202.03,307.72 203.59,306.08 205.70,305.94 207.71,306.25 209.01,307.95" fill="#4a4a3a" opacity="0.60"/><rect x="219.50" y="324.50" width="4.6" height="1.1" fill="#e04038" opacity="0.95"/><rect x="226.18" y="296.00" width="40.20" height="30.30" fill="#030703" opacity="1"/><ellipse cx="245.4" cy="310.3" rx="11.00" ry="12.00" fill="url(#rg19)"/><polygon points="240.39,305.06 242.07,303.92 244.08,304.18 245.76,303.65 247.45,304.39 248.79,303.78 250.13,304.72 250.47,308.08 250.47,311.45 249.46,314.81 247.45,316.49 244.08,316.96 241.73,316.49 240.72,314.81 240.18,310.10 240.05,306.74" fill="#2ee22e" opacity="0.35" stroke="#2ee22e" stroke-width="1.3" stroke-linejoin="round"/><polygon points="240.39,305.06 242.07,303.92 244.08,304.18 245.76,303.65 247.45,304.39 248.79,303.78 250.13,304.72 250.47,308.08 250.47,311.45 249.46,314.81 247.45,316.49 244.08,316.96 241.73,316.49 240.72,314.81 240.18,310.10 240.05,306.74" fill="#2ee22e" opacity="0.85"/><ellipse cx="245.00" cy="311.30" rx="2.60" ry="3.00" fill="none" stroke="#1ea81e" stroke-width="0.9" opacity="0.45" filter="url(#bl8)"/><rect x="266.75" y="296.00" width="40.20" height="30.30" fill="#020802" opacity="1"/><ellipse cx="285.9" cy="310.1" rx="11.00" ry="12.00" fill="url(#rg20)"/><polygon points="280.89,304.96 282.57,303.84 284.58,304.11 286.26,303.58 287.95,304.30 289.29,303.71 290.63,304.63 290.97,307.93 290.97,311.22 289.96,314.52 287.95,316.16 284.58,316.62 282.23,316.16 281.22,314.52 280.68,309.90 280.55,306.61" fill="#2ee22e" opacity="0.35" stroke="#2ee22e" stroke-width="1.3" stroke-linejoin="round"/><polygon points="280.89,304.96 282.57,303.84 284.58,304.11 286.26,303.58 287.95,304.30 289.29,303.71 290.63,304.63 290.97,307.93 290.97,311.22 289.96,314.52 287.95,316.16 284.58,316.62 282.23,316.16 281.22,314.52 280.68,309.90 280.55,306.61" fill="#2ee22e" opacity="0.85"/><ellipse cx="285.50" cy="311.10" rx="2.60" ry="2.94" fill="none" stroke="#1ea81e" stroke-width="0.9" opacity="0.45" filter="url(#bl8)"/><rect x="307.33" y="296.00" width="40.20" height="30.30" fill="url(#lg21)"/><ellipse cx="326.4" cy="310.3" rx="5.60" ry="6.40" fill="url(#rg22)"/><ellipse cx="326.4" cy="310.3" rx="4.2" ry="5.0" fill="none" stroke="#a01818" stroke-width="0.9" opacity="0.4" stroke-dasharray="1.5 1.2" filter="url(#bl6)"/><ellipse cx="327.5" cy="313.5" rx="1.80" ry="1.80" fill="url(#rg23)"/><ellipse cx="325" cy="308.5" rx="1.60" ry="1.60" fill="url(#rg24)"/><rect x="23.30" y="326.75" width="40.20" height="30.25" fill="url(#lg25)"/><rect x="23.30" y="326.75" width="40.20" height="30.25" fill="url(#rg26)"/><rect x="23.30" y="326.75" width="40.20" height="30.25" fill="url(#rg27)"/><rect x="23.30" y="326.75" width="40.20" height="30.25" fill="#000000" opacity="0.09"/><ellipse cx="43.0" cy="342.2" rx="2.90" ry="2.90" fill="url(#rg28)"/><rect x="57.20" y="355.20" width="4.6" height="1.1" fill="#e04038" opacity="0.95"/><rect x="63.88" y="326.75" width="40.20" height="30.25" fill="url(#lg29)"/><rect x="63.88" y="326.75" width="40.20" height="30.25" fill="url(#rg30)"/><rect x="63.88" y="326.75" width="40.20" height="30.25" fill="url(#rg31)"/><rect x="63.88" y="326.75" width="40.20" height="30.25" fill="#000000" opacity="0.07"/><ellipse cx="82.5" cy="342.4" rx="3.80" ry="3.80" fill="url(#rg32)"/><rect x="97.77" y="355.20" width="4.6" height="1.1" fill="#e04038" opacity="0.95"/><rect x="104.45" y="326.75" width="40.20" height="30.25" fill="url(#lg33)"/><rect x="104.45" y="326.75" width="40.20" height="30.25" fill="url(#rg34)"/><rect x="104.45" y="326.75" width="40.20" height="30.25" fill="url(#rg35)"/><rect x="104.45" y="326.75" width="40.20" height="30.25" fill="#000000" opacity="0.07"/><ellipse cx="124.4" cy="342.2" rx="3.80" ry="3.80" fill="url(#rg36)"/><rect x="138.34" y="355.20" width="4.6" height="1.1" fill="#e04038" opacity="0.95"/><rect x="145.03" y="326.75" width="40.20" height="30.25" fill="url(#lg37)"/><rect x="145.03" y="326.75" width="40.20" height="30.25" fill="url(#rg38)"/><rect x="145.03" y="326.75" width="40.20" height="30.25" fill="url(#rg39)"/><rect x="145.03" y="326.75" width="40.20" height="30.25" fill="#000000" opacity="0.06"/><polygon points="168.49,342.50 168.20,344.33 166.58,345.43 164.65,345.34 163.23,344.16 162.32,342.50 162.94,340.63 164.64,339.64 166.56,339.64 167.98,340.83" fill="none" stroke="#36381c" stroke-width="1.26" stroke-linejoin="round" opacity="0.41"/><polygon points="168.49,342.50 168.20,344.33 166.58,345.43 164.65,345.34 163.23,344.16 162.32,342.50 162.94,340.63 164.64,339.64 166.56,339.64 167.98,340.83" fill="#36381c" opacity="0.92"/><rect x="178.92" y="355.20" width="4.6" height="1.1" fill="#e04038" opacity="0.95"/><rect x="185.60" y="326.75" width="40.20" height="30.25" fill="url(#lg40)"/><rect x="185.60" y="326.75" width="40.20" height="30.25" fill="url(#rg41)"/><rect x="185.60" y="326.75" width="40.20" height="30.25" fill="url(#rg42)"/><g><circle cx="210.37" cy="343.69" r="0.58" fill="#505028" opacity="0.4"/><circle cx="211.91" cy="344.68" r="0.47" fill="#505028" opacity="0.4"/><circle cx="211.38" cy="346.24" r="0.34" fill="#505028" opacity="0.4"/><circle cx="208.73" cy="346.99" r="0.36" fill="#505028" opacity="0.4"/><circle cx="209.16" cy="350.39" r="0.38" fill="#505028" opacity="0.4"/><circle cx="207.58" cy="350.12" r="0.69" fill="#505028" opacity="0.4"/><circle cx="205.07" cy="349.30" r="0.71" fill="#505028" opacity="0.4"/><circle cx="204.23" cy="351.04" r="0.44" fill="#505028" opacity="0.4"/><circle cx="203.70" cy="347.57" r="0.45" fill="#505028" opacity="0.4"/><circle cx="201.93" cy="345.94" r="0.55" fill="#505028" opacity="0.4"/><circle cx="200.86" cy="345.20" r="0.54" fill="#505028" opacity="0.4"/><circle cx="202.05" cy="344.70" r="0.41" fill="#505028" opacity="0.4"/><circle cx="200.84" cy="342.07" r="0.45" fill="#505028" opacity="0.4"/><circle cx="201.39" cy="340.81" r="0.45" fill="#505028" opacity="0.4"/><circle cx="202.29" cy="338.53" r="0.42" fill="#505028" opacity="0.4"/><circle cx="203.71" cy="338.56" r="0.67" fill="#505028" opacity="0.4"/><circle cx="205.75" cy="339.07" r="0.71" fill="#505028" opacity="0.4"/><circle cx="205.95" cy="338.53" r="0.62" fill="#505028" opacity="0.4"/><circle cx="207.64" cy="338.48" r="0.35" fill="#505028" opacity="0.4"/><circle cx="210.84" cy="339.12" r="0.55" fill="#505028" opacity="0.4"/><circle cx="210.60" cy="341.94" r="0.60" fill="#505028" opacity="0.4"/><circle cx="211.94" cy="342.50" r="0.51" fill="#505028" opacity="0.4"/></g><ellipse cx="206" cy="344" rx="3.20" ry="3.20" fill="url(#rg43)"/><path d="M189.5,357 Q192,352.5 197.5,350.5" stroke="#808078" stroke-width="0.8" fill="none" opacity="0.8"/><rect x="219.50" y="355.20" width="4.6" height="1.1" fill="#e04038" opacity="0.95"/><rect x="226.18" y="326.75" width="40.20" height="30.25" fill="url(#lg44)"/><ellipse cx="246.7" cy="342.8" rx="3.20" ry="3.20" fill="url(#rg45)"/><ellipse cx="246.7" cy="342.8" rx="1.90" ry="1.90" fill="url(#rg46)"/><ellipse cx="232" cy="341" rx="0.90" ry="0.90" fill="url(#rg47)"/><ellipse cx="259" cy="333" rx="0.80" ry="0.80" fill="url(#rg48)"/><ellipse cx="254" cy="349.5" rx="0.90" ry="0.90" fill="url(#rg49)"/><rect x="266.75" y="326.75" width="40.20" height="30.25" fill="url(#lg50)"/><ellipse cx="287.6" cy="342.8" rx="3.00" ry="3.00" fill="url(#rg51)"/><ellipse cx="287.6" cy="342.8" rx="1.90" ry="1.90" fill="url(#rg52)"/><ellipse cx="270.5" cy="343.5" rx="0.90" ry="0.90" fill="url(#rg53)"/><ellipse cx="300.5" cy="349.8" rx="0.90" ry="0.90" fill="url(#rg54)"/><rect x="307.33" y="326.75" width="40.20" height="30.25" fill="url(#lg55)"/><ellipse cx="328.5" cy="343" rx="1.60" ry="1.60" fill="url(#rg56)"/><rect x="361.90" y="296.00" width="39.95" height="30.30" fill="url(#lg57)"/><rect x="361.90" y="296.00" width="39.95" height="30.30" fill="url(#rg58)"/><rect x="361.90" y="296.00" width="39.95" height="30.30" fill="url(#rg59)"/><ellipse cx="381.6" cy="309.6" rx="2.20" ry="2.20" fill="url(#rg60)"/><rect x="395.55" y="324.50" width="4.6" height="1.1" fill="#e07070" opacity="0.8"/><rect x="402.23" y="296.00" width="39.95" height="30.30" fill="url(#lg61)"/><rect x="402.23" y="296.00" width="39.95" height="30.30" fill="url(#rg62)"/><rect x="402.23" y="296.00" width="39.95" height="30.30" fill="url(#rg63)"/><ellipse cx="422.7" cy="310" rx="2.30" ry="2.30" fill="url(#rg64)"/><rect x="435.88" y="324.50" width="4.6" height="1.1" fill="#e07070" opacity="0.8"/><rect x="442.56" y="296.00" width="39.95" height="30.30" fill="url(#lg65)"/><rect x="442.56" y="296.00" width="39.95" height="30.30" fill="url(#rg66)"/><rect x="442.56" y="296.00" width="39.95" height="30.30" fill="url(#rg67)"/><ellipse cx="464.2" cy="311.2" rx="2.90" ry="2.90" fill="url(#rg68)"/><rect x="476.21" y="324.50" width="4.6" height="1.1" fill="#e07070" opacity="0.8"/><rect x="482.89" y="296.00" width="39.95" height="30.30" fill="url(#lg69)"/><rect x="482.89" y="296.00" width="39.95" height="30.30" fill="url(#rg70)"/><rect x="482.89" y="296.00" width="39.95" height="30.30" fill="url(#rg71)"/><g><circle cx="507.23" cy="307.87" r="0.43" fill="#606048" opacity="0.25"/><circle cx="504.34" cy="312.01" r="0.30" fill="#606048" opacity="0.25"/><circle cx="502.98" cy="313.15" r="0.45" fill="#606048" opacity="0.25"/><circle cx="499.69" cy="314.51" r="0.30" fill="#606048" opacity="0.25"/><circle cx="496.31" cy="312.28" r="0.47" fill="#606048" opacity="0.25"/><circle cx="496.16" cy="308.30" r="0.32" fill="#606048" opacity="0.25"/><circle cx="494.41" cy="305.17" r="0.47" fill="#606048" opacity="0.25"/><circle cx="499.37" cy="301.65" r="0.45" fill="#606048" opacity="0.25"/><circle cx="503.96" cy="302.44" r="0.31" fill="#606048" opacity="0.25"/><circle cx="505.96" cy="305.70" r="0.45" fill="#606048" opacity="0.25"/></g><ellipse cx="500.7" cy="310.3" rx="3.40" ry="3.40" fill="url(#rg72)"/><rect x="516.54" y="324.50" width="4.6" height="1.1" fill="#e07070" opacity="0.8"/><rect x="523.22" y="296.00" width="39.95" height="30.30" fill="url(#lg73)"/><rect x="523.22" y="296.00" width="39.95" height="30.30" fill="url(#rg74)"/><rect x="523.22" y="296.00" width="39.95" height="30.30" fill="url(#rg75)"/><ellipse cx="542.8" cy="311.8" rx="3.10" ry="3.50" fill="url(#rg76)"/><rect x="556.87" y="324.50" width="4.6" height="1.1" fill="#e07070" opacity="0.8"/><rect x="563.55" y="296.00" width="39.95" height="30.30" fill="url(#lg77)"/><ellipse cx="583.5" cy="311.5" rx="3.20" ry="3.60" fill="url(#rg78)"/><ellipse cx="583.5" cy="311.5" rx="2.4" ry="2.8" fill="none" stroke="#30d030" stroke-width="1.1" opacity="1" filter="url(#bl4)"/><rect x="603.88" y="296.00" width="39.95" height="30.30" fill="#010101" opacity="1"/><ellipse cx="623.4" cy="311.5" rx="3.05" ry="3.55" fill="url(#rg79)"/><ellipse cx="623.4" cy="311.5" rx="1.90" ry="2.20" fill="url(#rg80)"/><rect x="644.21" y="296.00" width="39.95" height="30.30" fill="url(#lg81)"/><ellipse cx="663.8" cy="311.8" rx="3.30" ry="3.30" fill="url(#rg82)"/><rect x="361.90" y="326.75" width="39.95" height="30.25" fill="url(#lg83)"/><rect x="361.90" y="326.75" width="39.95" height="30.25" fill="url(#rg84)"/><rect x="361.90" y="326.75" width="39.95" height="30.25" fill="url(#rg85)"/><ellipse cx="381.2" cy="340.7" rx="2.30" ry="2.30" fill="url(#rg86)"/><rect x="395.55" y="355.20" width="4.6" height="1.1" fill="#e83030" opacity="0.95"/><rect x="402.23" y="326.75" width="39.95" height="30.25" fill="url(#lg87)"/><rect x="402.23" y="326.75" width="39.95" height="30.25" fill="url(#rg88)"/><rect x="402.23" y="326.75" width="39.95" height="30.25" fill="url(#rg89)"/><ellipse cx="421.2" cy="341" rx="2.20" ry="2.20" fill="url(#rg90)"/><path d="M404.2,356.5 Q404.5,349 410,348.6 Q414,348.4 416,350" stroke="#505048" stroke-width="0.5" fill="none" opacity="0.45"/><rect x="435.88" y="355.20" width="4.6" height="1.1" fill="#e83030" opacity="0.95"/><rect x="442.56" y="326.75" width="39.95" height="30.25" fill="url(#lg91)"/><rect x="442.56" y="326.75" width="39.95" height="30.25" fill="url(#rg92)"/><rect x="442.56" y="326.75" width="39.95" height="30.25" fill="url(#rg93)"/><ellipse cx="463" cy="342.2" rx="2.70" ry="2.70" fill="url(#rg94)"/><ellipse cx="474.3" cy="335.8" rx="1.20" ry="1.20" fill="url(#rg95)"/><ellipse cx="467.1" cy="339.2" rx="0.80" ry="0.80" fill="url(#rg96)"/><rect x="476.21" y="355.20" width="4.6" height="1.1" fill="#e83030" opacity="0.95"/><rect x="482.89" y="326.75" width="39.95" height="30.25" fill="url(#lg97)"/><rect x="482.89" y="326.75" width="39.95" height="30.25" fill="url(#rg98)"/><rect x="482.89" y="326.75" width="39.95" height="30.25" fill="url(#rg99)"/><ellipse cx="501.5" cy="341.2" rx="2.30" ry="2.30" fill="url(#rg100)"/><ellipse cx="489.9" cy="327.3" rx="1.40" ry="1.40" fill="url(#rg101)"/><ellipse cx="512" cy="352.1" rx="1.70" ry="1.70" fill="url(#rg102)"/><rect x="516.54" y="355.20" width="4.6" height="1.1" fill="#e83030" opacity="0.95"/><rect x="523.22" y="326.75" width="39.95" height="30.25" fill="url(#lg103)"/><rect x="523.22" y="326.75" width="39.95" height="30.25" fill="url(#rg104)"/><rect x="523.22" y="326.75" width="39.95" height="30.25" fill="url(#rg105)"/><ellipse cx="526.3" cy="339.2" rx="3.80" ry="2.80" fill="url(#rg106)"/><ellipse cx="544.3" cy="342.2" rx="2.00" ry="2.00" fill="url(#rg107)"/><rect x="556.87" y="355.20" width="4.6" height="1.1" fill="#e83030" opacity="0.95"/><rect x="563.55" y="326.75" width="39.95" height="30.25" fill="url(#lg108)"/><ellipse cx="583.8" cy="342.2" rx="2.20" ry="2.20" fill="url(#rg109)"/><ellipse cx="571" cy="347.5" rx="0.90" ry="0.90" fill="url(#rg110)"/><ellipse cx="574" cy="353" rx="0.90" ry="0.90" fill="url(#rg111)"/><rect x="603.88" y="326.75" width="39.95" height="30.25" fill="#010101" opacity="1"/><ellipse cx="624" cy="342.2" rx="2.00" ry="2.00" fill="url(#rg112)"/><rect x="644.21" y="326.75" width="39.95" height="30.25" fill="url(#lg113)"/><ellipse cx="664.3" cy="342.2" rx="1.80" ry="1.80" fill="url(#rg114)"/><ellipse cx="650.9" cy="347.6" rx="0.90" ry="0.90" fill="url(#rg115)"/><ellipse cx="653.9" cy="353.8" rx="1.00" ry="1.00" fill="url(#rg116)"/><text x="49.40" y="293.3" font-size="6.1" font-weight="bold" text-anchor="middle">Day 0</text><text x="387.30" y="293.0" font-size="6.1" font-weight="bold" text-anchor="middle">Day 0</text><text x="89.30" y="293.3" font-size="6.1" font-weight="bold" text-anchor="middle">Day 3</text><text x="427.20" y="293.0" font-size="6.1" font-weight="bold" text-anchor="middle">Day 3</text><text x="129.60" y="293.3" font-size="6.1" font-weight="bold" text-anchor="middle">Day 7</text><text x="467.70" y="293.0" font-size="6.1" font-weight="bold" text-anchor="middle">Day 7</text><text x="171.20" y="293.3" font-size="6.1" font-weight="bold" text-anchor="middle">Day 10</text><text x="506.40" y="293.0" font-size="6.1" font-weight="bold" text-anchor="middle">Day 10</text><text x="209.00" y="293.3" font-size="6.1" font-weight="bold" text-anchor="middle">Day 14</text><text x="547.20" y="293.0" font-size="6.1" font-weight="bold" text-anchor="middle">Day 14</text><text x="254.10" y="293.3" font-size="6.1" font-weight="bold" text-anchor="middle">Live/dead</text><text x="587.60" y="293.0" font-size="6.1" font-weight="bold" text-anchor="middle">Live/dead</text><text x="288.50" y="293.3" font-size="6.1" font-weight="bold" text-anchor="middle">Live</text><text x="624.40" y="293.0" font-size="6.1" font-weight="bold" text-anchor="middle">Live</text><text x="326.00" y="293.3" font-size="6.1" font-weight="bold" text-anchor="middle">Dead</text><text x="661.00" y="293.0" font-size="6.1" font-weight="bold" text-anchor="middle">Dead</text><text x="10.7" y="312.1" font-size="6.2" font-weight="bold" text-anchor="middle">0</text><text x="10.9" y="318.7" font-size="5.85" font-weight="bold" text-anchor="middle">kBq/mL</text><text x="10.7" y="341.9" font-size="6.2" font-weight="bold" text-anchor="middle">50</text><text x="10.9" y="348.6" font-size="5.85" font-weight="bold" text-anchor="middle">kBq/mL</text>
</svg></body></html>
